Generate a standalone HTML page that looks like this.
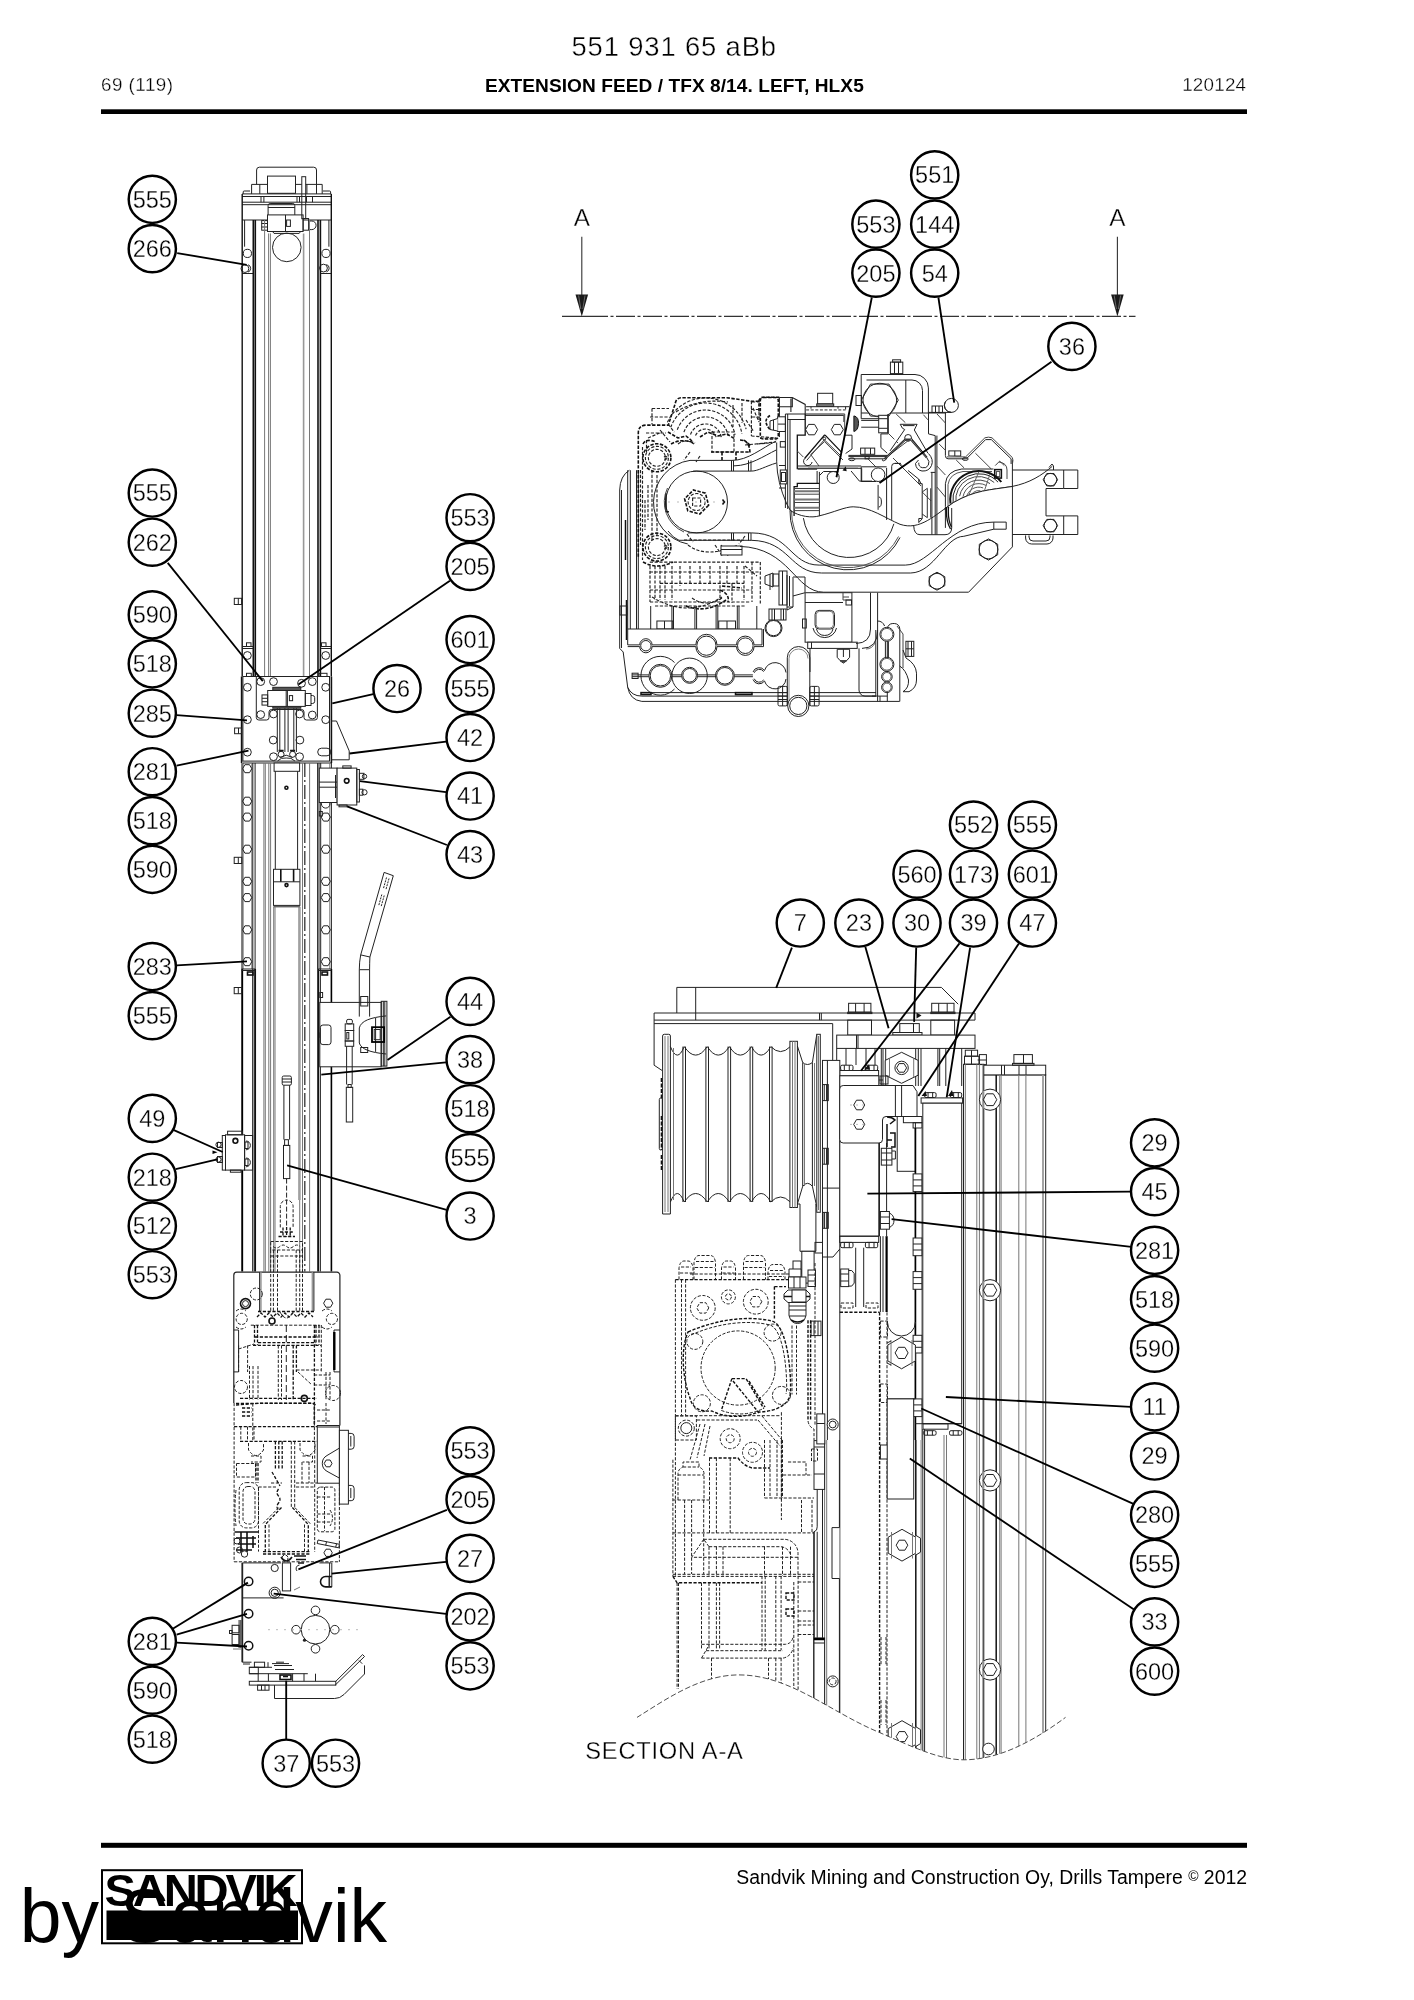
<!DOCTYPE html>
<html><head><meta charset="utf-8"><title>551 931 65 aBb</title>
<style>
html,body{margin:0;padding:0;background:#fff;}
body{width:1414px;height:2000px;overflow:hidden;font-family:"Liberation Sans",sans-serif;}
svg{display:block;font-family:"Liberation Sans",sans-serif;}
svg{will-change:transform;}
.d{fill:none;stroke:#222;stroke-width:1;}
.h{fill:none;stroke:#222;stroke-width:1;stroke-dasharray:3.2 1.6;}
.w{fill:#fff;stroke:#222;stroke-width:1;}
.b circle{fill:#fff;stroke:#000;stroke-width:2.45;}
.b text{font-size:23.5px;text-anchor:middle;fill:#000;stroke:#fff;stroke-width:0.3;paint-order:fill stroke;}
.l line{stroke:#000;stroke-width:1.85;}
</style></head><body>
<svg width="1414" height="2000" viewBox="0 0 1414 2000">
<rect width="1414" height="2000" fill="#fff"/>
<!-- header -->
<text x="674.2" y="55.6" font-size="27.4" letter-spacing="0.85" text-anchor="middle" fill="#000" stroke="#fff" stroke-width="0.4" paint-order="fill stroke">551 931 65 aBb</text>
<text x="101" y="91.1" font-size="18.8" letter-spacing="0.5" fill="#000" stroke="#fff" stroke-width="0.3" paint-order="fill stroke">69 (119)</text>
<text x="674.4" y="91.6" font-size="19.1" letter-spacing="0.06" font-weight="bold" text-anchor="middle" fill="#000">EXTENSION FEED / TFX 8/14. LEFT, HLX5</text>
<text x="1246.3" y="91.1" font-size="18.8" letter-spacing="0.25" text-anchor="end" fill="#000" stroke="#fff" stroke-width="0.3" paint-order="fill stroke">120124</text>
<rect x="101" y="109.3" width="1146" height="4.7" fill="#000"/>
<!-- drawing -->
<g class="d">
<!-- left.svg -->
<path d="M256.6 184.4V170a2.8 2.8 0 0 1 2.8-2.8H313.7a2.8 2.8 0 0 1 2.8 2.8V184.4"/>
<rect x="267.5" y="176.1" width="28.0" height="17.2"/>
<rect x="301.8" y="176.7" width="3.9" height="42.0"/>
<path d="M251.6 193.9V184.4H267.5M295.5 184.4H301.8M305.7 184.4H322.2V193.9"/>
<path d="M259.8 184.4V193.9"/>
<path d="M316.5 184.4V193.9M306.9 184.4V193.9"/>
<path d="M243.2 193.9V192a1 1 0 0 1 1-1H250M330.6 193.9V192a1 1 0 0 0 -1-1H323"/>
<path d="M242.2 193.9H331.3M242.2 196.5H331.3M242.2 202.2H331.3M242.2 204.7H331.3"/>
<path d="M261 196.5V202.2M263.9 196.5V202.2M297 196.5V202.2M299.5 196.5V202.2M306.5 196.5V202.2M312.5 196.5V202.2"/>
<path d="M242.2 220H267.5"/>
<path d="M303.1 220H331.3"/>
<path d="M268.1 214.9V205.5a2 2 0 0 1 2-2H292.8a2 2 0 0 1 2 2V214.9"/>
<path d="M268.1 207.5H294.8"/>
<rect x="267.5" y="214.9" width="35.6" height="16.6"/>
<path d="M285.5 214.9V231.5"/>
<rect x="286.6" y="220" width="3.8" height="6.4"/>
<rect x="261.7" y="220.6" width="5.8" height="9.6"/>
<rect x="303.1" y="218.5" width="5.5" height="11.7"/>
<path d="M308.6 221h3.2a3 3 0 0 1 0 8.6h-3.2"/>
<path d="M261.7 223.5H267.5M261.7 227H267.5"/>
<path d="M272.6 231.5L274 233.4H299.2L300.6 231.5"/>
<circle cx="286.8" cy="247.4" r="14.3"/>
<path d="M244.6 220V246.7M328.9 220V246.7"/>
<circle cx="247.4" cy="253.4" r="4.1"/>
<circle cx="326" cy="253.4" r="4.1"/>
<circle cx="244.9" cy="268.6" r="3.9"/>
<circle cx="323.5" cy="268.1" r="3.9"/>
<path d="M326.5 264.5a3.9 3.9 0 0 1 0 7.4"/>
<path d="M248 264.7a3.9 3.9 0 0 1 0 7.4"/>
<path d="M242.2 273.5H253.2"/>
<path d="M320.7 273.5H331.3"/>
<path d="M242.2 193.9V676.5" stroke="#111" stroke-width="1.4"/>
<path d="M331.3 193.9V676.5" stroke="#111" stroke-width="1.4"/>
<path d="M253.3 220V676.5M255.3 220V676.5" stroke="#111" stroke-width="1.6"/>
<path d="M318 220V676.5M320.4 220V676.5" stroke="#111" stroke-width="1.6"/>
<path d="M264.6 220V676.5" stroke="#777"/>
<path d="M268.6 233.4V676.5M270.4 233.4V676.5" stroke="#777"/>
<path d="M303.6 233.4V676.5" stroke="#999" stroke-width="1.6"/>
<path d="M309.5 220V676.5" stroke="#777"/>
<rect x="234.3" y="598.3" width="7.3" height="6.2"/>
<path d="M238.3 598.3V604.5"/>
<path d="M242.2 646.5H253.3M242.2 648.5H253.3"/>
<path d="M320.4 646.5H331.3M320.4 648.5H331.3"/>
<rect x="246.5" y="642.8" width="4.5" height="3.7"/>
<rect x="321.5" y="642.8" width="4.5" height="3.7"/>
<circle cx="247.4" cy="655.5" r="3.9"/>
<circle cx="325.7" cy="655.5" r="3.9"/>
<rect x="242.9" y="676.5" width="86.6" height="84.6" fill="#fff"/>
<path d="M243 763H331.3"/>
<path d="M241.6 676.5V763" stroke="#111" stroke-width="1.6"/>
<path d="M331.4 676.5V763" stroke="#111" stroke-width="1.6"/>
<rect x="246.5" y="673.3" width="4.8" height="3.2"/>
<rect x="319" y="673.3" width="8.0" height="3.2"/>
<path d="M256.3 677V717.5a2.5 2.5 0 0 0 2.5 2.5H266.5a2.5 2.5 0 0 0 2.5-2.5V712a2.5 2.5 0 0 1 2.5-2.5H301.5a2.5 2.5 0 0 1 2.5 2.5V717.5a2.5 2.5 0 0 0 2.5 2.5H314.9a2.5 2.5 0 0 0 2.5-2.5V677"/>
<circle cx="247.4" cy="687.3" r="3.9"/>
<circle cx="325.7" cy="687.3" r="3.9"/>
<circle cx="260.7" cy="681.6" r="3.9"/>
<circle cx="273.5" cy="681.6" r="3.9"/>
<circle cx="312.3" cy="681.6" r="3.9"/>
<circle cx="301.5" cy="683.3" r="3.9"/>
<circle cx="260.7" cy="714.6" r="3.9"/>
<circle cx="273.5" cy="714" r="3.9"/>
<circle cx="299.6" cy="714" r="3.9"/>
<circle cx="312.3" cy="715" r="3.9"/>
<circle cx="247.4" cy="719.7" r="3.9"/>
<circle cx="325.7" cy="719.7" r="3.9"/>
<circle cx="273.2" cy="740.1" r="3.9"/>
<circle cx="299.9" cy="740.1" r="3.9"/>
<circle cx="247.4" cy="752.2" r="3.9"/>
<circle cx="273.5" cy="756.7" r="3.9"/>
<circle cx="299.6" cy="756.7" r="3.9"/>
<path d="M321.5 748.2H327a3.8 3.8 0 0 1 0 7.6H321.5a3.8 3.8 0 0 1 0-7.6z"/>
<circle cx="281.1" cy="754.3" r="3"/>
<circle cx="292.6" cy="754.3" r="3"/>
<path d="M278.6 750.6H283.6M290.1 750.6H295.1" stroke="#111" stroke-width="1.6"/>
<rect x="272.8" y="687.3" width="28.0" height="3.2" fill="#555" stroke="#222"/>
<rect x="272.8" y="706.4" width="28.0" height="1.8" fill="#555" stroke="#222"/>
<rect x="267.7" y="690.5" width="37.6" height="15.9" fill="#fff"/>
<path d="M286.2 690.5V706.4M287.4 690.5V706.4"/>
<rect x="289.4" y="695.6" width="3.2" height="5.1"/>
<rect x="262" y="694.9" width="5.7" height="10.2"/>
<path d="M262 698.3H267.7M262 701.7H267.7"/>
<rect x="305.3" y="693.5" width="5.7" height="12.0"/>
<path d="M311 695.5h1.5a2.2 2.2 0 0 1 2.2 2.2v3.6a2.2 2.2 0 0 1 -2.2 2.2H311"/>
<path d="M277.3 708.2V752M279.8 708.2V752M284.9 708.2V752M288.1 708.2V752M293.8 708.2V752M296.4 708.2V752"/>
<path d="M279.8 757.5L286.2 755.2L292.6 757.5"/>
<path d="M277.5 761a10 10 0 0 1 8.7-3a10 10 0 0 1 8.7 3"/>
<rect x="234.6" y="728" width="7.0" height="5.7"/>
<path d="M238.5 728V733.7"/>
<path d="M331.4 721H336.5L349.2 750.9V759.8H331.4"/>
<path d="M241.6 763V969" stroke="#777"/>
<path d="M242.9 763V969"/>
<path d="M251.8 763V969" stroke="#777"/>
<path d="M252.8 763V969M255.1 763V969"/>
<path d="M255.1 969V1271.5" stroke="#111" stroke-width="1.9"/>
<path d="M242.2 969V1271.5" stroke="#000" stroke-width="1.9"/>
<path d="M252.8 969V1271.5" stroke="#111" stroke-width="1.2"/>
<path d="M263.9 763V1271.5M265.3 763V1271.5" stroke="#777"/>
<path d="M268.8 763V1271.5M270.6 763V1271.5" stroke="#777"/>
<path d="M302.5 763V1271.5" stroke="#777"/>
<path d="M304.8 763V1271.5" stroke="#333" stroke-width="1.3" stroke-dasharray="14 3 2 3"/>
<path d="M309.6 763V1271.5" stroke="#777"/>
<path d="M317.6 763V969M319 763V969M320.7 763V969"/>
<path d="M318.2 969V1271.5" stroke="#111" stroke-width="2"/>
<path d="M320.4 969V1271.5"/>
<path d="M331.4 763V969"/>
<path d="M329.8 763V969" stroke="#777"/>
<path d="M331.4 969V1271.5" stroke="#000" stroke-width="1.6"/>
<rect x="274.1" y="763" width="25.5" height="8.3" fill="#fff"/>
<path d="M275.3 771.3V869.3M297.6 771.3V869.3"/>
<rect x="273.5" y="869.3" width="26.4" height="36.1" fill="#fff"/>
<path d="M280.8 869.3V881.8M293.6 869.3V881.8" stroke="#111" stroke-width="1.6"/>
<path d="M273.5 881.8H299.9"/>
<circle cx="286.5" cy="885.1" r="1.5" stroke="#111" stroke-width="1.6"/>
<path d="M273.5 906.8H299.9"/>
<path d="M273.7 906.8V1271.5M275 906.8V1271.5" stroke="#777"/>
<path d="M298.9 906.8V1200M300 906.8V1200" stroke="#777"/>
<path d="M299.7 1200V1271.5" stroke="#777"/>
<circle cx="286.4" cy="787.8" r="1.5" stroke="#111" stroke-width="1.6"/>
<polygon points="251.8,768.7 249.5,772.7 244.9,772.7 242.6,768.7 244.9,764.7 249.5,764.7"/>
<polygon points="251.8,801.2 249.5,805.2 244.9,805.2 242.6,801.2 244.9,797.2 249.5,797.2"/>
<polygon points="251.8,817.1 249.5,821.1 244.9,821.1 242.6,817.1 244.9,813.1 249.5,813.1"/>
<polygon points="251.8,849.2 249.5,853.2 244.9,853.2 242.6,849.2 244.9,845.2 249.5,845.2"/>
<polygon points="251.8,881.3 249.5,885.3 244.9,885.3 242.6,881.3 244.9,877.3 249.5,877.3"/>
<polygon points="251.8,897.6 249.5,901.6 244.9,901.6 242.6,897.6 244.9,893.6 249.5,893.6"/>
<polygon points="251.8,929.8 249.5,933.8 244.9,933.8 242.6,929.8 244.9,925.8 249.5,925.8"/>
<polygon points="251.8,961.7 249.5,965.7 244.9,965.7 242.6,961.7 244.9,957.7 249.5,957.7"/>
<polygon points="330.4,817.1 328.1,821.1 323.5,821.1 321.2,817.1 323.5,813.1 328.1,813.1"/>
<polygon points="330.4,849.2 328.1,853.2 323.5,853.2 321.2,849.2 323.5,845.2 328.1,845.2"/>
<polygon points="330.4,881.3 328.1,885.3 323.5,885.3 321.2,881.3 323.5,877.3 328.1,877.3"/>
<polygon points="330.4,897.6 328.1,901.6 323.5,901.6 321.2,897.6 323.5,893.6 328.1,893.6"/>
<polygon points="330.4,929.8 328.1,933.8 323.5,933.8 321.2,929.8 323.5,925.8 328.1,925.8"/>
<polygon points="330.4,961.7 328.1,965.7 323.5,965.7 321.2,961.7 323.5,957.7 328.1,957.7"/>
<circle cx="325.7" cy="803.8" r="4.3"/>
<rect x="319.3" y="811.5" width="3.0" height="4.5"/>
<rect x="234.2" y="857.3" width="7.6" height="6.2"/>
<path d="M238.3 857.3V863.5"/>
<rect x="234.2" y="987.5" width="7.6" height="6.2"/>
<path d="M238.3 987.5V993.7"/>
<path d="M241.6 969H255.4M241.6 970.5H255.4"/>
<path d="M318.1 969H331.4M318.1 970.5H331.4"/>
<rect x="247.5" y="972" width="5.5" height="3.0" stroke="#111" stroke-width="1.6"/>
<rect x="322" y="972" width="5.5" height="3.0" stroke="#111" stroke-width="1.6"/>
<rect x="319.8" y="992.5" width="2.8" height="5.0"/>
<rect x="319.8" y="1032.8" width="2.8" height="4.5"/>
<rect x="319.3" y="768.1" width="17.8" height="34.4" fill="#fff"/>
<path d="M319.3 782.1H337.1M319.3 787.2H337.1"/>
<rect x="337.1" y="768.1" width="19.7" height="36.9" fill="#fff"/>
<rect x="356.8" y="769.5" width="2.6" height="32.5"/>
<rect x="342.8" y="765.9" width="8.3" height="2.2"/>
<path d="M335.5 775V798"/>
<circle cx="346.7" cy="780.8" r="2.3" stroke="#111" stroke-width="1.6"/>
<rect x="359.4" y="773.3" width="4.5" height="6.0"/>
<circle cx="364.5" cy="776.4" r="2.2"/>
<rect x="359.4" y="789.2" width="3.5" height="6.0"/>
<circle cx="364.5" cy="792.3" r="2.6"/>
<rect x="339" y="805" width="8.0" height="1.8"/>
<path d="M384.1 872.4L393.3 875.7L369.9 957Q369.6 963 369.6 969.7V1016.6M384.1 872.4L360.7 954.9Q359.3 962 359.3 969.7V1027.9"/>
<path d="M360.7 954.9L369.9 957"/>
<path d="M359.3 969.7H369.6"/>
<path d="M386.5 877.5l-3.2 11.5M389 878.5l-3.2 11.5M381.8 894.5l-3.2 11.5M384.2 895.5l-3.2 11.5" stroke-dasharray="2 1"/>
<rect x="319.8" y="1002.4" width="61.4" height="64.4" fill="#fff"/>
<rect x="360.7" y="996.5" width="7.1" height="9.5"/>
<path d="M359.3 1002.4V1016.6M369.6 1002.4V1016.6"/>
<rect x="320.4" y="1025" width="10.6" height="19.6" rx="2.5"/>
<rect x="381.2" y="1001.3" width="5.7" height="64.8"/>
<path d="M383.3 1001.3V1066.1M384.8 1001.3V1066.1"/>
<path d="M359.3 1027.9C361 1021 370 1017.5 386.2 1015.9M359.3 1027.9V1043C361 1049 370 1052.5 386.2 1054"/>
<path d="M375.6 1018V1051.9"/>
<rect x="372" y="1027.2" width="12.1" height="14.8" stroke="#000" stroke-width="1.8"/>
<rect x="374.2" y="1029.5" width="6.0" height="10.2"/>
<rect x="360.7" y="1047.5" width="7.0" height="5.0"/>
<rect x="346.6" y="1019.4" width="5.8" height="4.5" rx="1.5"/>
<rect x="345.2" y="1023.9" width="8.5" height="6.6"/>
<rect x="345.2" y="1030.5" width="8.5" height="10.5"/>
<rect x="345.2" y="1041" width="8.5" height="5.3"/>
<rect x="346.8" y="1032.5" width="2.0" height="6.5"/>
<path d="M346.6 1046.3V1084.5M352.2 1046.3V1084.5"/>
<rect x="348" y="1084.5" width="3.2" height="3.0"/>
<rect x="346.3" y="1087.3" width="6.4" height="34.7"/>
<rect x="282.2" y="1076" width="9.2" height="9.2" rx="1.5"/>
<path d="M282.2 1079H291.4M282.2 1082H291.4"/>
<path d="M283.9 1085.2V1139.6M289.6 1085.2V1139.6"/>
<rect x="284.6" y="1139.7" width="3.8" height="5.7"/>
<rect x="283.5" y="1145.4" width="6.3" height="33.2"/>
<rect x="225.5" y="1134.8" width="19.1" height="35.3" fill="#fff"/>
<rect x="222.3" y="1135.5" width="3.2" height="34.6"/>
<rect x="227.6" y="1131.2" width="14.8" height="3.6"/>
<rect x="230.4" y="1170.1" width="10.6" height="2.1"/>
<circle cx="235.4" cy="1140.8" r="2.4" stroke="#111" stroke-width="1.6"/>
<rect x="244.6" y="1135.5" width="8.0" height="34.6"/>
<path d="M246 1141a4.4 4.4 0 0 1 0 8.8M246 1158a4.4 4.4 0 0 1 0 8.8"/>
<rect x="245" y="1142" width="3.0" height="6.5"/>
<rect x="245" y="1159" width="3.0" height="6.5"/>
<rect x="217.5" y="1142.5" width="4.8" height="5.0"/>
<circle cx="218.5" cy="1144.7" r="2.6"/>
<rect x="217.5" y="1156.5" width="4.8" height="6.0"/>
<circle cx="218.5" cy="1159.5" r="2.6"/>
<path d="M212.5 1150.5l5 1.8l-5 1.8z" fill="#000" stroke="none"/>
<path d="M286.6 1178.6V1227" stroke-dasharray="5 2"/>
<path d="M280.3 1227.4V1206.5a6.4 6.4 0 0 1 12.8 0V1227.4" stroke-dasharray="3.2 1.6"/>
<path d="M278.5 1236.5h16.5M280 1232h13.5M283 1227.4v9M290.2 1227.4v9M286.6 1227v10" stroke-dasharray="3.2 1.6" stroke="#111" stroke-width="1.3"/>
<rect x="270.7" y="1241.5" width="31.8" height="8.5" stroke-dasharray="3.2 1.6"/>
<path d="M273 1246.5q3.4 3 6.8 0t6.8 0t6.8 0t6.8 0" stroke-dasharray="3.2 1.6"/>
<path d="M270.7 1256H302.5" stroke-dasharray="3.2 1.6"/>
<path d="M270.7 1250V1311M273.4 1250V1311M277.5 1250V1311M296.2 1250V1311M299.7 1250V1311M302.5 1250V1311" stroke-dasharray="3.2 1.6"/>
<path d="M233.8 1403V1275.2a3 3 0 0 1 3-3H336.9a3 3 0 0 1 3 3V1425.5" stroke="#222" stroke-width="1.2"/>
<path d="M259.6 1272.2V1311"/>
<path d="M260.9 1272.2V1311" stroke="#999" stroke-width="1.6"/>
<path d="M312.4 1272.2V1311" stroke="#999" stroke-width="1.6"/>
<path d="M313.9 1272.2V1311"/>
<path d="M233.8 1330H238.6V1371.9H233.8"/>
<path d="M339.9 1330H334V1371.9H339.9"/>
<path d="M334.3 1332V1370" stroke="#000" stroke-width="2.4"/>
<circle cx="245.5" cy="1303.6" r="5" stroke="#111" stroke-width="1.6"/>
<circle cx="245.5" cy="1303.6" r="3"/>
<circle cx="256.3" cy="1294" r="6" stroke-dasharray="3.2 1.6"/>
<polygon points="332.8,1303.2 330.5,1307.2 325.9,1307.2 323.6,1303.2 325.9,1299.2 330.5,1299.2"/>
<circle cx="241.7" cy="1318.9" r="5.6" stroke-dasharray="3.2 1.6"/>
<circle cx="331.9" cy="1318.9" r="5.6" stroke-dasharray="3.2 1.6"/>
<circle cx="272" cy="1321" r="3" stroke="#111" stroke-width="1.6"/>
<circle cx="304.3" cy="1398.4" r="3" stroke="#111" stroke-width="1.6"/>
<path d="M236 1311q5-4 10 0M322 1311q5-4 10 0M236 1327q5 4 10 0M322 1327q5 4 10 0" stroke-dasharray="3.2 1.6"/>
<path d="M258 1311.5H315M257 1317l4-4 4 4 4-4 4 4 4-4 4 4 4-4 4 4 4-4 4 4 4-4 4 4 4-4 4 4" stroke-dasharray="3.2 1.6" stroke="#111" stroke-width="1.3"/>
<path d="M280 1312q6.5 12 13 0" stroke-dasharray="3.2 1.6"/>
<path d="M250.8 1325.2H319.7" stroke-dasharray="3.2 1.6"/>
<path d="M255 1337H318M258 1342.7H316M253 1345.4H321" stroke-dasharray="3.2 1.6" stroke="#111" stroke-width="1.3"/>
<path d="M286.3 1325V1400" stroke-dasharray="7 3"/>
<path d="M278.3 1345.4V1400M281.5 1345.4V1400" stroke-dasharray="3.2 1.6"/>
<path d="M293.2 1345.4V1372M296.4 1345.4V1372" stroke-dasharray="3.2 1.6" stroke="#111" stroke-width="1.3"/>
<path d="M293.2 1372V1400" stroke-dasharray="3.2 1.6" stroke="#111" stroke-width="1.3"/>
<path d="M314.4 1325V1425" stroke-dasharray="3.2 1.6" stroke="#111" stroke-width="1.3"/>
<path d="M321.3 1325V1372" stroke-dasharray="3.2 1.6"/>
<path d="M254.5 1325V1345M257.5 1325V1345" stroke-dasharray="3.2 1.6" stroke="#111" stroke-width="1.3"/>
<path d="M316 1325V1345M319 1325V1345" stroke-dasharray="3.2 1.6" stroke="#111" stroke-width="1.3"/>
<path d="M238.6 1345.4V1372M247.6 1345.4V1372" stroke-dasharray="3.2 1.6"/>
<path d="M249.5 1366V1400M253 1366V1400M258 1366V1400" stroke-dasharray="3.2 1.6"/>
<path d="M238.6 1349L254 1344M296.4 1370H321M298 1372L312 1385M314 1375H330M314 1385H330" stroke-dasharray="3.2 1.6"/>
<path d="M240 1398.4H317" stroke-dasharray="3.2 1.6" stroke="#111" stroke-width="1.3"/>
<path d="M236 1405L260 1403.2H312L316 1405" stroke-dasharray="3.2 1.6" stroke="#111" stroke-width="1.3"/>
<circle cx="241" cy="1387" r="6.5" stroke-dasharray="3.2 1.6"/>
<circle cx="333" cy="1393" r="7.5" stroke-dasharray="3.2 1.6"/>
<path d="M326 1372V1400M330 1372V1400" stroke-dasharray="3.2 1.6"/>
<path d="M234.1 1403V1561.8" stroke-dasharray="3.2 1.6"/>
<path d="M339.4 1483V1561.8" stroke-dasharray="3.2 1.6"/>
<path d="M234.1 1561.8H339.4" stroke-dasharray="3.2 1.6"/>
<path d="M236 1403.4H314.4V1426.6" stroke-dasharray="3.2 1.6" stroke="#111" stroke-width="1.3"/>
<path d="M252.8 1403.4V1441" stroke-dasharray="3.2 1.6"/>
<path d="M314.4 1403V1441" stroke-dasharray="3.2 1.6"/>
<path d="M240.8 1426.6V1441M247.5 1426.6V1441M254 1426.6V1441" stroke-dasharray="3.2 1.6"/>
<path d="M234.1 1426.6H317.3" stroke-dasharray="3.2 1.6" stroke="#111" stroke-width="1.3"/>
<path d="M240 1441.3H317" stroke-dasharray="3.2 1.6" stroke="#111" stroke-width="1.3"/>
<path d="M242 1408h10M242 1412h10M242 1416h10" stroke-dasharray="3.2 1.6" stroke="#111" stroke-width="1.3"/>
<path d="M317 1410H331M317 1421H331M326 1403V1424" stroke-dasharray="3.2 1.6"/>
<path d="M248.5 1443V1450q7.5 11 15 0V1443M300 1443V1450q7.5 11 15 0V1443" stroke-dasharray="3.2 1.6"/>
<path d="M251 1456h10v6h-10M302.5 1456h10v6h-10" stroke-dasharray="3.2 1.6"/>
<rect x="236.5" y="1463.5" width="19.0" height="13.5" stroke-dasharray="3.2 1.6"/>
<path d="M256 1463V1483M258 1463V1483" stroke-dasharray="3.2 1.6" stroke="#111" stroke-width="1.3"/>
<path d="M275.4 1441.3V1470M278.8 1441.3V1470M282.2 1441.3V1470" stroke-dasharray="3.2 1.6" stroke="#111" stroke-width="1.3"/>
<path d="M291.3 1441.3V1507.5M294.7 1441.3V1507.5" stroke-dasharray="3.2 1.6"/>
<path d="M302 1462V1483M309 1462V1483" stroke-dasharray="3.2 1.6"/>
<path d="M314.7 1441V1552" stroke-dasharray="3.2 1.6"/>
<path d="M271 1483H282M296 1483H317M258.5 1487H276M296 1487H314.7" stroke-dasharray="3.2 1.6"/>
<path d="M272 1472l8 14M278.5 1489q-3 4 0 7t0 7t0 7" stroke-dasharray="3.2 1.6" stroke="#111" stroke-width="1.3"/>
<path d="M281.5 1507.5L265.3 1524.5V1551.6M292.4 1507.5L308.3 1524.5V1551.6" stroke-dasharray="3.2 1.6" stroke="#111" stroke-width="1.3"/>
<path d="M278.8 1507.5L262 1524.5M294.8 1507.5L311 1524.5" stroke-dasharray="3.2 1.6"/>
<path d="M269 1524.5V1551.6M304.5 1524.5V1551.6" stroke-dasharray="3.2 1.6"/>
<path d="M263 1551.6H310M263 1554H310" stroke-dasharray="3.2 1.6" stroke="#111" stroke-width="1.3"/>
<path d="M258.5 1487V1551.6" stroke-dasharray="3.2 1.6"/>
<rect x="239.2" y="1482.6" width="19.3" height="45.3" rx="7" stroke-dasharray="3.2 1.6"/>
<rect x="243" y="1486.5" width="12.0" height="37.5" rx="5" stroke-dasharray="3.2 1.6"/>
<path d="M236 1490q-2 18 0 36" stroke-dasharray="3.2 1.6"/>
<rect x="317.3" y="1487.1" width="17.6" height="44.7" rx="3" stroke-dasharray="3.2 1.6"/>
<path d="M317.3 1497H331M317.3 1514H331M317.3 1522H331M324.5 1487V1531" stroke-dasharray="3.2 1.6"/>
<path d="M330 1510q5 8 0 16" stroke-dasharray="3.2 1.6"/>
<path d="M234.5 1532H258M236 1538h20M238 1544h18M236 1550h16M241 1532v20M247 1532v20M253 1536v12" stroke="#111" stroke-width="1.6"/>
<circle cx="237" cy="1541" r="3"/>
<circle cx="239.5" cy="1550" r="3"/>
<circle cx="244.5" cy="1554" r="3.2" fill="#fff"/>
<path d="M281 1557q5 8 11 0M294 1556h12M296 1559.5h10M298 1563h6" stroke="#111" stroke-width="1.6"/>
<circle cx="285" cy="1558" r="3" stroke-dasharray="3.2 1.6"/>
<path d="M318 1540l21.5 4.3l-.8 3.5l-21.5-4.3zM326.5 1541.8l-.8 3.5M336.5 1543.8l-.8 3.5"/>
<polygon points="332.3,1552.8 330.2,1556.4 326.0,1556.4 323.9,1552.8 326.0,1549.2 330.2,1549.2"/>
<rect x="317.3" y="1425.5" width="22.1" height="57.7" fill="#fff"/>
<path d="M317.3 1427H339.4"/>
<path d="M339.4 1448.1L327 1455.5a9 9 0 0 0 0 15.8L339.4 1478.1"/>
<polygon points="332.0,1463.4 330.1,1466.8 326.2,1466.8 324.2,1463.4 326.2,1460.0 330.1,1460.0"/>
<rect x="339.4" y="1430.3" width="9.0" height="73.8" fill="#fff"/>
<path d="M348.4 1433.4h2.8a2.9 2.9 0 0 1 2.9 2.9v10a2.9 2.9 0 0 1 -2.9 2.9h-2.8M348.4 1485.4h2.8a2.9 2.9 0 0 1 2.9 2.9v9.5a2.9 2.9 0 0 1 -2.9 2.9h-2.8"/>
<path d="M350.8 1436v10.5M350.8 1488v10"/>
<path d="M242.3 1562.9V1662.2" stroke="#222" stroke-width="1.8"/>
<path d="M242.3 1562.9H281M319.3 1562.9H331.4"/>
<path d="M329.6 1562.9V1587.1M331.8 1562.9V1587.1"/>
<path d="M242.3 1597.9H283.6"/>
<rect x="282.4" y="1562.9" width="8.2" height="28.0" fill="#fff"/>
<circle cx="274.7" cy="1568" r="3.6"/>
<path d="M299.5 1565a3.6 3.6 0 0 0 -2.5 6"/>
<circle cx="248.6" cy="1581.4" r="4.2" stroke="#111" stroke-width="1.5"/>
<circle cx="248.6" cy="1613.8" r="4.2" stroke="#111" stroke-width="1.5"/>
<circle cx="248.6" cy="1645.7" r="4.2" stroke="#111" stroke-width="1.5"/>
<circle cx="274.7" cy="1592.8" r="5.6"/>
<circle cx="274.7" cy="1592.8" r="3.6"/>
<path d="M331.8 1576.5H325.7a5.2 5.2 0 0 0 0 10.4H331.8" stroke="#111" stroke-width="1.6"/>
<path d="M329 1576.5V1587"/>
<path d="M294 1590l6-3" stroke="#777"/>
<circle cx="315.5" cy="1629.7" r="14.3"/>
<circle cx="315.5" cy="1610.4" r="4.3"/>
<circle cx="296.1" cy="1629.7" r="4.3"/>
<circle cx="334.8" cy="1629.7" r="4.3"/>
<circle cx="315.5" cy="1648.8" r="4.3"/>
<circle cx="304.5" cy="1640.2" r="1.6" fill="#222" stroke="none"/>
<path d="M268 1629.7H360" stroke="#bbb" stroke-dasharray="2 6"/>
<rect x="232.1" y="1625.3" width="7.0" height="7.5"/>
<rect x="232.1" y="1634.5" width="7.0" height="10.0"/>
<rect x="229.5" y="1630.5" width="2.6" height="3.0"/>
<path d="M239.1 1620V1648M240.8 1620V1648"/>
<path d="M233 1649H242" stroke="#777"/>
<path d="M242.3 1662.2H251.5M243 1664H250"/>
<rect x="254.4" y="1662.2" width="10.2" height="5.1"/>
<path d="M268 1662.2V1667.3M276 1662.2H284M272 1663.6H289M274 1665.5H292M275 1669.5H294"/>
<path d="M249.3 1667.3H272"/>
<rect x="249.3" y="1667.3" width="9.0" height="6.4"/>
<path d="M249.3 1673.7H307.8"/>
<path d="M258.2 1673.7V1681.3M268.4 1673.7V1681.3M292.6 1673.7V1681.3M304 1673.7V1681.3M315.5 1673.7V1681.3"/>
<rect x="249.3" y="1681.3" width="86.5" height="3.8"/>
<rect x="280" y="1675" width="11.0" height="4.5" stroke="#111" stroke-width="1.6"/>
<path d="M283 1676.5h5" stroke="#111" stroke-width="1.6"/>
<rect x="257.6" y="1685.1" width="11.4" height="5.1"/>
<path d="M261.5 1685.1V1690.2M265 1685.1V1690.2"/>
<path d="M274.5 1685.1V1698.5H334.6Q340 1698.5 344 1694.5L364.5 1674V1665.4"/>
<path d="M335.8 1681.3L362.6 1654.6L364.5 1656.5L335.2 1685.1"/>
<path d="M359 1660.5l3.2 3.2"/>
<!-- topright.svg -->
<path d="M562 316.4H608" stroke="#333" stroke-width="1.1"/>
<path d="M610.5 316.4H1135.5" stroke="#333" stroke-width="1.1" stroke-dasharray="3 2.5 19 2.5"/>
<path d="M581.8 236.7V300" stroke="#333" stroke-width="1.1"/>
<path d="M575.5 294.4H588.0999999999999L581.8 316.6z" fill="#1a1a1a" stroke="none"/>
<path d="M578.5999999999999 295.5L580.8 309M585.0 295.5L582.8 309" stroke="#999" stroke-width="0.6"/>
<text x="581.8" y="226" font-size="24.3" text-anchor="middle" fill="#000" stroke="#fff" stroke-width="0.3" paint-order="fill stroke">A</text>
<path d="M1117.4 236.7V300" stroke="#333" stroke-width="1.1"/>
<path d="M1111.1000000000001 294.4H1123.7L1117.4 316.6z" fill="#1a1a1a" stroke="none"/>
<path d="M1114.2 295.5L1116.4 309M1120.6000000000001 295.5L1118.4 309" stroke="#999" stroke-width="0.6"/>
<text x="1117.4" y="226" font-size="24.3" text-anchor="middle" fill="#000" stroke="#fff" stroke-width="0.3" paint-order="fill stroke">A</text>
<path d="M629.4 470.2Q620 476 619.7 490V648.4L623.2 652L627.7 687.3Q630 700 641.8 701.4"/>
<path d="M621.5 490V648"/>
<path d="M627.7 470.2V629M630.3 470.2V629"/>
<path d="M636.5 470.2V629M638.3 470.2V629"/>
<path d="M625.5 520V560M626.5 600V640" stroke="#111" stroke-width="1.5"/>
<rect x="620" y="606" width="7.0" height="9.0"/>
<path d="M638.3 556.8V433Q638.3 425.5 646 425.1H668.3L675.4 403a6 6 0 0 1 6-5.3H726.7L751.4 401.2H760.3" stroke-dasharray="3.4 1.5" stroke="#111" stroke-width="1.6"/>
<path d="M642.5 447V560M646.5 440V452" stroke-dasharray="3.2 1.6" stroke="#222" stroke-width="1.15"/>
<path d="M652 408.5h17M650 417h18M652 408.5v16" stroke-dasharray="3.2 1.6" stroke="#222" stroke-width="1.15"/>
<path d="M690.5 434.5A16 16 0 0 1 721.3 437.2" stroke-dasharray="3.2 1.6" stroke="#222" stroke-width="1.15"/>
<path d="M683.9 432.1A23 23 0 0 1 728.2 436.0" stroke-dasharray="3.2 1.6" stroke="#222" stroke-width="1.15"/>
<path d="M677.3 429.7A30 30 0 0 1 735.0 434.8" stroke-dasharray="3.2 1.6" stroke="#222" stroke-width="1.15"/>
<path d="M670.7 427.3A37 37 0 0 1 741.9 433.6" stroke-dasharray="3.2 1.6" stroke="#222" stroke-width="1.15"/>
<path d="M668 432l10 6 8-2 6 5M700 437l8-5 10 4 9-2 8 5" stroke-dasharray="3.4 1.5" stroke="#111" stroke-width="1.6"/>
<rect x="712" y="432" width="22.0" height="20.0" stroke-dasharray="3.2 1.6" stroke="#222" stroke-width="1.15"/>
<path d="M711 452H750M722 452v8M736 452v8" stroke-dasharray="3.4 1.5" stroke="#111" stroke-width="1.6"/>
<path d="M740 440q10 0 10 14M744 440l7 6" stroke-dasharray="3.4 1.5" stroke="#111" stroke-width="1.6"/>
<rect x="760.3" y="397.5" width="18.0" height="41.5" rx="3" stroke-dasharray="3.4 1.5" stroke="#111" stroke-width="1.6"/>
<path d="M751.4 401V436" stroke-dasharray="3.2 1.6" stroke="#222" stroke-width="1.15"/>
<path d="M751.4 436L776 438M745 445L776 442" stroke-dasharray="3.2 1.6" stroke="#222" stroke-width="1.15"/>
<path d="M646 433h20M648 438l14-6M668.3 424.2l6 8M676 412q22-14 52-10M690 452l-6 8M700 456l-4 6M746 420l8 12M753 408l6 14M733 405v22M742 403v20M660 430l10 12M678 444q8-6 16 0" stroke-dasharray="3.2 1.6" stroke="#222" stroke-width="1.15"/>
<path d="M695.5 435.4A11 11 0 0 1 716.1 437.2" stroke-dasharray="3.2 1.6" stroke="#222" stroke-width="1.15"/>
<path d="M667.4 422.3A42 42 0 0 1 746.1 429.1" stroke-dasharray="3.2 1.6" stroke="#222" stroke-width="1.15"/>
<path d="M649.8 572H760M665 566v34M680 566v20M710 566v18M720 566v34M732 583v20M655 606h90M692 598q14 10 30 0" stroke-dasharray="3.2 1.6" stroke="#222" stroke-width="1.15"/>
<path d="M640.5 470V545M645 500v30" stroke-dasharray="3.2 1.6" stroke="#222" stroke-width="1.15"/>
<circle cx="656.9" cy="457.8" r="14" stroke-dasharray="3.4 1.5" stroke="#111" stroke-width="1.6"/>
<circle cx="656.9" cy="457.8" r="8.5" stroke-dasharray="3.2 1.6" stroke="#222" stroke-width="1.15"/>
<circle cx="665.5" cy="457.8" r="1.5" stroke-dasharray="3.2 1.6" stroke="#222" stroke-width="1.15"/>
<circle cx="656.9" cy="457.8" r="11.5" stroke-dasharray="3.2 1.6" stroke="#222" stroke-width="1.15"/>
<circle cx="656.9" cy="547.1" r="14" stroke-dasharray="3.4 1.5" stroke="#111" stroke-width="1.6"/>
<circle cx="656.9" cy="547.1" r="8.5" stroke-dasharray="3.2 1.6" stroke="#222" stroke-width="1.15"/>
<circle cx="665.5" cy="547.1" r="1.5" stroke-dasharray="3.2 1.6" stroke="#222" stroke-width="1.15"/>
<circle cx="656.9" cy="547.1" r="11.5" stroke-dasharray="3.2 1.6" stroke="#222" stroke-width="1.15"/>
<path d="M643 444Q646 438 656 442M671 444q10-6 24-1" stroke-dasharray="3.4 1.5" stroke="#111" stroke-width="1.6"/>
<path d="M643 562q14 8 30 0" stroke-dasharray="3.4 1.5" stroke="#111" stroke-width="1.6"/>
<path d="M648 485V520M652 470V540M657 475v60" stroke-dasharray="3.2 1.6" stroke="#222" stroke-width="1.15"/>
<path d="M649.8 562.1H760.3M650 566v36M655 566v34M660 566v34M672 566v34M690 566v18M700 566v18M727 566v18M737 566v18M744 566v34" stroke-dasharray="3.2 1.6" stroke="#222" stroke-width="1.15"/>
<path d="M660 583.3H744M650 590H752M652 597q36 22 70 0M650 602h100" stroke-dasharray="3.2 1.6" stroke="#222" stroke-width="1.15"/>
<path d="M686 606q20 8 40-6M720 590q10 4 8 12M722 586l20 2" stroke-dasharray="3.4 1.5" stroke="#111" stroke-width="1.6"/>
<path d="M752 562v40M760.3 562V604M745 566l12 10" stroke-dasharray="3.2 1.6" stroke="#222" stroke-width="1.15"/>
<path d="M684 540h60M688 545q18 14 50 0M715 545l8 12M721 545l8 12" stroke-dasharray="3.2 1.6" stroke="#222" stroke-width="1.15"/>
<rect x="721" y="546" width="21.0" height="9.0" fill="#fff"/>
<path d="M721 549.5H742"/>
<path d="M687 534l6 8M745 536l-6 8" stroke-dasharray="3.2 1.6" stroke="#222" stroke-width="1.15"/>
<path d="M650.7 606V629M671.9 606V629M673.5 606V629M694.9 606V629M696.6 606V629M716.1 606V629M717.8 606V629M737.3 606V629M739 606V629M756.8 606V629"/>
<rect x="656.9" y="621" width="15.9" height="8.0"/>
<path d="M664.5 621V629"/>
<rect x="718.7" y="621" width="16.8" height="8.0"/>
<path d="M727 621V629"/>
<path d="M627.7 629H762V644.9H754.1a8.8 8.8 0 0 0 -17.6 0H717a10.6 10.6 0 0 0 -21.2 0H652.1a6.2 6.2 0 0 0 -12.4 0H627.7z" fill="#fff"/>
<path d="M627.7 646.6H639.7a6.2 6.2 0 0 0 12.4 0H695.8a10.6 10.6 0 0 0 21.2 0H736.5a8.8 8.8 0 0 0 17.6 0H763.5V629"/>
<circle cx="645.9" cy="645.7" r="5.2"/>
<circle cx="706.4" cy="645.7" r="9.6"/>
<circle cx="745.3" cy="645.7" r="7.8"/>
<path d="M632.1 674.9H648.9M671.9 674.9H681.6M697.6 674.9H715.4M734.4 674.9H752.9M632.1 676.7H648.9M671.9 676.7H681.6M697.6 676.7H715.4M734.4 676.7H752.9"/>
<rect x="632.1" y="673.2" width="6.0" height="5.3"/>
<circle cx="660.4" cy="675.8" r="11.5"/>
<circle cx="660.4" cy="675.8" r="10.2"/>
<path d="M674.5 662.5A19.4 19.4 0 1 0 674.5 689"/>
<circle cx="689.6" cy="675.8" r="17.7"/>
<circle cx="689.6" cy="675.3" r="8"/>
<circle cx="689.6" cy="675.3" r="6.8"/>
<circle cx="724.9" cy="675.8" r="9.5"/>
<circle cx="724.9" cy="675.8" r="8.3"/>
<path d="M753 672a6.5 6.5 0 0 1 11.5-1.5a11 11 0 0 1 21.5 2M753 679.5a6.5 6.5 0 0 0 11.5 1.5a11 11 0 0 0 21.5-2"/>
<path d="M754.2 672.8a5.4 5.4 0 0 1 9.5-1.2M754.2 678.7a5.4 5.4 0 0 0 9.5 1.2"/>
<path d="M641.8 692.6H787M641.8 696.1H787"/>
<path d="M641.8 701.4H899.7"/>
<path d="M627.7 687.3Q631.5 696.1 641.8 696.1"/>
<rect x="641" y="692.6" width="10.0" height="2.0" stroke="#111" stroke-width="1.5"/>
<rect x="735.5" y="692.6" width="16.5" height="2.0" stroke="#111" stroke-width="1.5"/>
<path d="M810 692.6H876M810 696.1H876"/>
<path d="M787.3 706V657.8a11.25 11.25 0 0 1 22.5 0V706" fill="#fff"/>
<path d="M789 706V658.5a9.5 9.5 0 0 1 19 0" stroke="#888"/>
<circle cx="798.3" cy="705.9" r="10.6" fill="#fff"/>
<circle cx="798.3" cy="705.9" r="8.6"/>
<path d="M779.5 686.4h6.3a1.5 1.5 0 0 1 1.5 1.5v16.5a1.5 1.5 0 0 1 -1.5 1.5h-6.3a1.5 1.5 0 0 1 -1.5-1.5v-16.5a1.5 1.5 0 0 1 1.5-1.5zM778 692.6h9.3M778 696.1h9.3M778 699.5h9.3M782.6 686.4v19.5"/>
<path d="M811.3 686.4h6.3a1.5 1.5 0 0 1 1.5 1.5v16.5a1.5 1.5 0 0 1 -1.5 1.5h-6.3a1.5 1.5 0 0 1 -1.5-1.5v-16.5a1.5 1.5 0 0 1 1.5-1.5zM809.8 692.6h9.3M809.8 696.1h9.3M809.8 699.5h9.3M814.4 686.4v19.5"/>
<circle cx="773.5" cy="628.1" r="8.5"/>
<circle cx="773.5" cy="628.1" r="7.6"/>
<path d="M779.4 397.5V437M779.4 397.5H792.3L805.2 404.4V413.5M779.4 406.7H792.3V397.5M790.9 398.5V412" stroke="#222" stroke-width="1.1"/>
<path d="M779.4 397.2H763a4 4 0 0 0 -4 4V412" stroke-dasharray="3.4 1.5" stroke="#111" stroke-width="1.6"/>
<path d="M759 412v10M752 402h8M751 409.5h9M752 417h8" stroke-dasharray="3.2 1.6" stroke="#222" stroke-width="1.15"/>
<rect x="777.6" y="416.8" width="7.8" height="14.7" fill="#fff"/>
<path d="M777.6 424.1H785.4"/>
<path d="M777.6 418.5L770 421V429.5L777.6 431" fill="#fff"/>
<path d="M773.5 420V430"/>
<path d="M770 415.5q-8 5 0 14" stroke="#111" stroke-width="1.6" stroke-dasharray="3 1.4"/>
<path d="M760 438.5L776.7 438M757 444l12-1" stroke-dasharray="3.2 1.6" stroke="#222" stroke-width="1.15"/>
<path d="M785.4 414V508M787.7 414V509M790 419.5V510.2"/>
<path d="M785.4 414H844.7M805.2 415.4H843.8M787.7 419.5H805.2"/>
<path d="M805.2 413.5V435.2H797.3V469.2" stroke="#111" stroke-width="1.3"/>
<rect x="780.3" y="441.6" width="5.1" height="5.5"/>
<rect x="780.3" y="470" width="6.5" height="13.9" fill="#fff"/>
<rect x="781.5" y="472.5" width="4.0" height="9.0"/>
<path d="M779 465.5H785.4M779 488H785.4"/>
<path d="M776.7 442.5V461.8Q777 482 786.8 504.1L790.5 510.6"/>
<path d="M765 576l8-3v14l-8-3zM770 574v16" fill="#fff"/>
<rect x="773" y="574" width="6.0" height="12.0"/>
<rect x="779" y="571" width="8.0" height="34.0" fill="#fff"/>
<path d="M782.5 571V605"/>
<path d="M787 575V610M793 577V596M789.5 576V606"/>
<path d="M793 577H805V592M793 596L805.1 592.7M787 610L793 607" fill="#fff"/>
<rect x="769" y="609" width="17.0" height="11.0" fill="#fff"/>
<path d="M772 609V620M774.5 609V620M781 609V620M783.5 609V620"/>
<path d="M793 596V607H787"/>
<rect x="817.6" y="393.3" width="15.1" height="10.6"/>
<rect x="816.7" y="403.9" width="17.0" height="2.3" fill="#999"/>
<path d="M806.1 406.7H849.3"/>
<path d="M811 406.7v2M838 406.7v2M845.6 406.7v3"/>
<path d="M806.1 409.9H845.6" stroke="#888" stroke-width="1.6" stroke-dasharray="3 1.6"/>
<path d="M844.7 414V436M843.8 415.4V422" stroke="#444"/>
<polygon points="817.6,429.6 814.6,434.8 808.6,434.8 805.6,429.6 808.6,424.4 814.6,424.4"/>
<polygon points="843.3,429.6 840.3,434.8 834.3,434.8 831.3,429.6 834.3,424.4 840.3,424.4"/>
<path d="M804.6 458.5L823.6 436.2Q824.5 434.5 825.6 435.6L841.9 452.6" stroke="#111" stroke-width="1.3"/>
<path d="M806.6 460.5L824.3 439.8L840.5 455.5" stroke="#333"/>
<path d="M804.6 458.5a4.3 4.3 0 1 0 7.5 3.5" stroke="#222"/>
<circle cx="824.3" cy="438.6" r="1.4"/>
<path d="M824.5 441.6L810.7 454.5L819 466M824.5 441.6L843 460M797.3 451l6 6" stroke="#444"/>
<path d="M797.8 466H861.2M797.8 468.3H861.2" stroke="#222"/>
<path d="M808 467.2H858" stroke="#999" stroke-width="1.2"/>
<path d="M797.8 469.2H817.1M817.1 471V483M819.4 471.9V516.1"/>
<path d="M819.4 475.6L823.5 471.5H838.3"/>
<path d="M794.1 516.1V486.6H797.3V483.4H819.4" stroke="#111" stroke-width="1.3"/>
<path d="M794.1 491.2H819.4M794.1 499.5H819.4M794.1 507.8H819.4" stroke="#777" stroke-width="1.9"/>
<path d="M794.1 488.5H819.4M794.1 494.2H819.4M794.1 502.5H819.4M794.1 510.6H819.4" stroke="#444"/>
<circle cx="833.2" cy="477.5" r="6" fill="#fff"/>
<path d="M842.5 470.5l3.2-4.2l1 5z" fill="#111" stroke="none"/>
<path d="M844.7 435.2H852V449L845.6 453.5" stroke="#222"/>
<path d="M853.9 415.9q5 1 4.6 7.8t-4.6 7.8z" fill="#555" stroke="#111" stroke-width="1"/>
<path d="M851.1 471L859.4 481.1H872M861.7 468.3V481.1"/>
<path d="M776.2 441C762 448 748 460.4 732 460.4H690A42.4 42.4 0 0 0 687.8 544"/>
<path d="M776.2 450C764 456 750 465.5 735 465.8H733M776.2 463.1C766 466 758 471.1 751.4 471.1H693.1"/>
<path d="M731.5 460.4V471.1M733.5 460.4V471.1M748.5 460.4V471.1M751 460.4V471.1"/>
<circle cx="696.6" cy="502" r="30.9"/>
<path d="M665.9 493.2V511.7M665.9 511.7h3" stroke="#111" stroke-width="1.5"/>
<path d="M667.5 488A32.5 32.5 0 0 0 684 532" stroke="#444"/>
<polygon points="708.6,505.2 699.8,514.0 687.8,510.8 684.6,498.8 693.4,490.0 705.4,493.2" stroke-dasharray="3.4 1.5" stroke="#111" stroke-width="1.6"/>
<circle cx="696.6" cy="502" r="8.5" stroke-dasharray="3.2 1.6" stroke="#222" stroke-width="1.15"/>
<rect x="692.6" y="498" width="8.0" height="8.0" stroke-dasharray="3.2 1.6" stroke="#222" stroke-width="1.15"/>
<path d="M668 502H725" stroke="#bbb" stroke-dasharray="2 7"/>
<path d="M722.5 499.5l2 2.5l-2 2.5" stroke="#111" stroke-width="1.5"/>
<path d="M687.8 532.9H751.4C790 533 790 565.1 819.2 565.1H905.4C930 565 950 522.1 993.8 522.1H1006.2"/>
<path d="M679 540.3H751.4C790 541 790 573 821.5 573H910.7C935 572.5 945 536.3 963.8 536.3L993.8 529.2H1006.2V522.1"/>
<path d="M993.8 522.1V529.2"/>
<path d="M731.5 532.9V540.6M733.5 532.9V540.6M748.5 532.9V540.6M751 532.9V540.6"/>
<path d="M679 540.3Q673 538 668 531"/>
<path d="M740 546.4C790 548 795 592.2 823.7 592.2H968.6L1012.4 546.9V460.2"/>
<path d="M790 510.5A58 58 0 0 0 900 537.5"/>
<path d="M791.5 510.5A56.5 56.5 0 0 0 898.5 536.5" stroke="#555"/>
<path d="M803.4 518.1A46.4 46.4 0 0 0 893.9 523.8"/>
<path d="M789.8 510.2C800 517 812 518 819.2 515.9C835 512 845 506.8 853.2 506.8C870 506.8 885 518 900 524.3C920 531 935 515 953.2 502.7C975 490 990 490 1012 486.5C1030 483 1042 475 1052.2 466.4"/>
<path d="M861.2 418.7V374.5H915a13.4 13.4 0 0 1 13.4 13.4V413" fill="#fff"/>
<path d="M866.5 380H912a10.5 10.5 0 0 1 10.5 10.5V413"/>
<path d="M905.8 380V413"/>
<rect x="890.4" y="362.1" width="12.4" height="11.5"/>
<rect x="892.6" y="359.8" width="8.0" height="2.3"/>
<path d="M894.5 362.1V373.6M898.5 362.1V373.6"/>
<path d="M861.2 413H946.1"/>
<circle cx="879.8" cy="400.1" r="16.8" fill="#fff"/>
<polygon points="898.3,400.1 889.0,416.1 870.5,416.1 861.3,400.1 870.5,384.1 889.0,384.1"/>
<rect x="856" y="395.5" width="5.5" height="10.0"/>
<rect x="878.7" y="415.3" width="9.0" height="17.5" fill="#fff"/>
<path d="M878.7 418.7H887.7M878.7 428.3H887.7"/>
<path d="M861.2 418.7H878.7M861.2 420.4H878.7M861.2 427.2H878.7"/>
<rect x="932" y="406" width="10.5" height="6.5"/>
<path d="M935.5 406V412.5M939 406V412.5"/>
<circle cx="951.4" cy="405.4" r="7" fill="#fff"/>
<path d="M945.5 401.5a7 7 0 0 0 5.9 10.9H928.4"/>
<path d="M888.3 414.1V433.9H880.9V447.5L887.2 453.2"/>
<path d="M928.5 413V433.9L935.2 435.6V534.7M936.9 435.6V534.7M945.4 413V455.4"/>
<path d="M931.9 472.4V534.7M930.7 472.4H935.2"/>
<path d="M896.2 414.1L905.3 422.6M923.4 414.7L927.9 419.8M937 414L945.4 423M889 434l9 9M939.2 444.1L946 450.9M893 458l28 28M936.9 466L945.4 475M936.9 487l8.5 10M922.2 492l9 9" stroke="#444"/>
<path d="M900.2 424.3H917.1L914.3 430L927.9 453.2M900.2 424.3L902.5 428.3L904.7 429.5L890 450.9M903 425.6H914.5" fill="#fff"/>
<path d="M907.5 441.2L887.2 456.6M909.8 436.2L926.8 457" stroke="#444"/>
<circle cx="908.1" cy="437.9" r="3.4" fill="#fff"/>
<path d="M905 438.6a3.2 3.2 0 0 0 6.2 0z" fill="#333" stroke="none"/>
<path d="M905.3 439.6L884.6 459" stroke="#111" stroke-width="2"/>
<path d="M905.3 439.6L884.6 459" stroke="#bbb" stroke-width="0.6"/>
<path d="M911.5 440.2L926.8 457.7" stroke="#111" stroke-width="2"/>
<path d="M911.5 440.2L926.8 457.7" stroke="#bbb" stroke-width="0.6"/>
<path d="M926.8 457.7q3.5 4 1.5 7.5t-6 2.5t-3.5-5M928.5 453.5q5.5 6 3 12t-9.5 5.5q-6-1-6.5-7.5l3-3.5" stroke="#222"/>
<path d="M882.5 459.3a2.8 1.4 -40 1 0 4.5-1.8"/>
<rect x="860.6" y="448.1" width="14.1" height="6.2"/>
<path d="M865 448.1V454.3M870.5 448.1V454.3"/>
<rect x="865.1" y="456.6" width="4.0" height="2.2"/>
<path d="M848.4 455.4H887.2M848.4 456.6H886M848.4 458.8H884.6"/>
<path d="M848.8 459.3a3 1.4 0 1 0 6 0a3 1.4 0 1 0 -6 0"/>
<path d="M868 459l8 8" stroke="#444"/>
<path d="M861.2 466.8H886.6"/>
<path d="M861.2 466.8V481.5H876" stroke="#222"/>
<circle cx="878.1" cy="474.7" r="6.8" fill="#fff"/>
<path d="M878.1 484.9V509.8M878.8 497a2.6 5 0 0 1 0 10"/>
<path d="M886.6 467.9V519.9M891.7 519.9V466.4a3 3 0 0 1 3-3h3.5q2.5 0 4 2.5" stroke="#222"/>
<path d="M894.7 463.4H901M908 470.5L918.8 479.2V483.7H922.2V518.8L918.8 522.5M918.8 479.2L921 483.7M918.8 522.5V518.5H921.8" stroke="#222"/>
<path d="M927.3 488.3V517.7M930.7 488.3V517.7M927.3 488.3L922.2 492M927.3 517.7L922.2 514" stroke="#333"/>
<path d="M913.7 525.6Q914 534.7 920 534.7H945Q951.5 534.7 951.7 527.9"/>
<rect x="948.8" y="450.9" width="11.9" height="5.1"/>
<path d="M954.8 450.9V456"/>
<path d="M945.4 455.4Q945.4 458.8 948 458.8H966.4L985.6 439.6H991.3L1011.1 458.8V464" fill="#fff"/>
<path d="M947 456.9H965.6L984.9 437.8Q988.5 436.5 992 437.8L1012.3 457.5Q1013.5 460 1012.5 463.5" stroke="#444"/>
<path d="M962.4 459a2.9 1.4 0 1 0 5.8 0a2.9 1.4 0 1 0 -5.8 0"/>
<path d="M995.2 465.6L999.7 461.1L1004.3 465.6M956.2 460L964.1 467.9M975.4 453.2L991.3 469M999 462q8 1 8 8v9" stroke="#444"/>
<path d="M945.4 506.4V483.7Q946.5 471 961.8 469H993.5" stroke="#222"/>
<path d="M948 506V484.5Q949.5 473.5 963 471.5H992" stroke="#555"/>
<rect x="994.7" y="469.6" width="6.7" height="8.5" stroke="#111" stroke-width="1.5"/>
<rect x="996.5" y="471.5" width="3.2" height="5.0" stroke="#555"/>
<path d="M950.5 503.6A28.6 28.6 0 0 1 1001.3 482.0" stroke="#111" stroke-width="2"/>
<path d="M953.1 503.2A26 26 0 0 1 998.1 482.2"/>
<path d="M956.0 502.8A23 23 0 0 1 994.2 482.5" stroke="#444"/>
<path d="M959.6 496.2A19.5 19.5 0 0 1 990.0 483.6" stroke="#444"/>
<path d="M963.0 496.8A16 16 0 0 1 986.3 485.5" stroke="#555"/>
<path d="M966.5 497.4A12.5 12.5 0 0 1 983.1 487.9" stroke="#555"/>
<path d="M969.9 498.0A9 9 0 0 1 980.4 490.7" stroke="#666"/>
<path d="M973.4 498.6A5.5 5.5 0 0 1 978.8 494.1" stroke="#666"/>
<path d="M979 471.5L968 497M990 474l-6 18" stroke="#666"/>
<path d="M944 509.5L953.2 502.7C975 490 990 490 1011.5 486.6V519H944z" fill="#fff" stroke="none"/>
<path d="M944 509.5L953.2 502.7C975 490 990 490 1012 486.5"/>
<path d="M945.4 506.4V527.9M951.7 508V527.9" stroke="#222"/>
<path d="M946.5 507Q945.5 520 950.5 529M948.5 507Q947.5 519 951.5 527" stroke="#111" stroke-width="1.3"/>
<path d="M1012.4 470H1077.8V488.5H1063.7M1063.7 470V488.5M1063.7 488.5H1046V515.9H1077.8V534.5H1012.4M1063.7 515.9V534.5"/>
<polygon points="1057.6,479.7 1054.0,485.9 1046.8,485.9 1043.2,479.7 1046.8,473.5 1054.0,473.5"/>
<polygon points="1057.6,525.6 1054.0,531.8 1046.8,531.8 1043.2,525.6 1046.8,519.4 1054.0,519.4"/>
<circle cx="1050.4" cy="479.7" r="6.3"/>
<circle cx="1050.4" cy="525.6" r="6.3"/>
<path d="M1049 467.5l3-3.5l1.5 2v4"/>
<path d="M1025.6 535.4V538a6 6 0 0 0 6 6H1047a6 6 0 0 0 6-6V535.4M1029 535.4V537a4 4 0 0 0 4 4H1046a4 4 0 0 0 4-4V535.4"/>
<polygon points="997.7,554.8 988.5,560.1 979.3,554.8 979.3,544.2 988.5,538.9 997.7,544.2"/>
<circle cx="988.5" cy="549.5" r="9.4"/>
<polygon points="944.8,585.7 937.0,590.2 929.2,585.7 929.2,576.7 937.0,572.2 944.8,576.7"/>
<circle cx="937" cy="581.2" r="7.9"/>
<rect x="805.1" y="592.7" width="46.8" height="49.5" fill="#fff"/>
<path d="M805.1 602.5H843"/>
<path d="M843 592.7V600h8.9M843 597h6" stroke="#444"/>
<rect x="846" y="600" width="5.5" height="5.0"/>
<rect x="815.1" y="610.4" width="19.4" height="18.6" rx="4" fill="#fff"/>
<rect x="816.2" y="611.3" width="17.2" height="16.8" rx="3.5" stroke="#777"/>
<path d="M813 628a12 12 0 0 0 23.5 0M816.5 629a8.5 8.5 0 0 0 16.5 0"/>
<rect x="802.5" y="619" width="3.8" height="9.0"/>
<rect x="807.7" y="642.2" width="49.5" height="6.2" fill="#fff"/>
<path d="M811.5 642.2V648.4"/>
<path d="M837.2 649.3h12.4v8l-3 3.4h-6.4l-3-3.4zM840 660.7l3.4 2.4l3.4-2.4" fill="#fff"/>
<path d="M843.4 649.3V657"/>
<path d="M840 660.7l3.4 2.4l3.4-2.4z" fill="#444" stroke="none"/>
<path d="M810 648.4V672"/>
<path d="M870.5 592.7V629Q870.5 643 856 643.5M877.6 592.7V630Q877.6 648.4 862 648.4"/>
<path d="M866 649q6 0 9-6" stroke="#666"/>
<path d="M859 648.4V690a6 6 0 0 0 6 6.1H875.8V630"/>
<path d="M877.6 630V696.1"/>
<path d="M877.6 621q5 0 7 5M887.3 701.4V629a5.5 5.5 0 0 1 5.5-5.5h1.5a5.5 5.5 0 0 1 5.5 5.5V701.4"/>
<path d="M897 626l6 8V668" stroke="#444"/>
<circle cx="886.9" cy="634.3" r="7" fill="#fff"/>
<circle cx="886.9" cy="634.3" r="5.9" stroke="#555"/>
<circle cx="886.9" cy="664.3" r="7" fill="#fff"/>
<circle cx="886.9" cy="664.3" r="5.9" stroke="#555"/>
<circle cx="886.9" cy="676.7" r="5.3" fill="#fff"/>
<circle cx="886.9" cy="676.7" r="4.199999999999999" stroke="#555"/>
<circle cx="886.9" cy="687.3" r="5.3" fill="#fff"/>
<circle cx="886.9" cy="687.3" r="4.199999999999999" stroke="#555"/>
<path d="M885.4 641.3V657.3M888.4 641.3V657.3"/>
<path d="M872 696.1H887.3M877.6 696.1V701.4M880 696.1V701.4"/>
<rect x="905.9" y="641.3" width="7.9" height="15.1"/>
<path d="M905.9 648.8H913.8"/>
<path d="M908 641.3V656.4M911.5 641.3V656.4"/>
<path d="M899.7 666Q906 670 908.5 680Q909 688 903 691.7H909Q916.5 688 916.5 680V673.2Q916 664 906 658L903 650"/>
<!-- botright.svg -->
<clipPath id="brk"><path d="M600 940H1100V1717.4L1065.5 1717.4C1035 1740 1000 1759.8 963.7 1759.8C940 1759.8 915 1748 878.8 1732.2C830 1712 790 1674.9 738.8 1674.9C700 1674.9 665 1700 637 1717.4L600 1717.4z"/></clipPath>
<g clip-path="url(#brk)">
<path d="M676.8 1013V987.4H941.4L958.2 1004.2"/>
<path d="M695.7 987.4V1020.1"/>
<path d="M654.1 1065.2V1013H975V1020.1H654.1M654.1 1065.2L662.1 1070.5"/>
<path d="M819.5 1013V1020.1M821.3 1013V1020.1"/>
<path d="M654.1 1023.6H832.7"/>
<path d="M832.7 1023.6V1060.4"/>
<rect x="848.6" y="1003.3" width="22.3" height="8.9"/>
<path d="M855.6 1003.3V1012.2M864.1 1003.3V1012.2"/>
<rect x="847.7" y="1012.2" width="24.2" height="1.4"/>
<rect x="847.7" y="1020.1" width="23.8" height="15.0"/>
<rect x="931.7" y="1003.3" width="22.3" height="8.9"/>
<path d="M938.7 1003.3V1012.2M947.2 1003.3V1012.2"/>
<rect x="930.8000000000001" y="1012.2" width="24.2" height="1.4"/>
<rect x="930.8000000000001" y="1020.1" width="23.8" height="15.0"/>
<rect x="899.8" y="1023.6" width="19.5" height="8.9"/>
<path d="M913.5 1023.6V1032.5"/>
<rect x="892.8" y="1032.5" width="29.2" height="2.6"/>
<path d="M916.5 1012.5l5 3l-5 3z" fill="#111" stroke="none"/>
<rect x="836.7" y="1035.1" width="138.3" height="13.3" fill="#fff"/>
<path d="M856.5 1035.1V1048.4M858 1035.1V1048.4"/>
<path d="M836.7 1048.4V1060"/>
<path d="M881.3 1048.4V1086M883 1048.4V1086M885.7 1048.4V1086M915.7 1048.4V1086M918.3 1048.4V1086M921 1048.4V1086M937.9 1048.4V1086M939.7 1048.4V1086M945.8 1048.4V1086M961.7 1048.4V1086"/>
<path d="M846 1048.4V1065M856 1048.4V1065M866 1048.4V1065M875 1048.4V1065"/>
<polygon points="901.6,1052.3 918.1,1060.4 918.1,1075.2 901.6,1083.3 885.2,1075.2 885.2,1060.4" fill="#fff"/>
<path d="M889.5 1058.5V1077.2M913.7 1058.5V1077.2" stroke="#777"/>
<circle cx="901.6" cy="1067.9" r="6.7"/>
<polygon points="906.6,1067.9 904.1,1072.2 899.1,1072.2 896.6,1067.9 899.1,1063.6 904.1,1063.6"/>
<rect x="840.6" y="1065.2" width="12.4" height="5.3" rx="1.5"/>
<path d="M844.32 1065.2V1070.5M849.28 1065.2V1070.5"/>
<rect x="865.4" y="1065.2" width="12.3" height="5.3" rx="1.5"/>
<path d="M869.09 1065.2V1070.5M874.01 1065.2V1070.5"/>
<rect x="839.7" y="1070.5" width="38.9" height="5.3"/>
<path d="M864 1069.5l4.5-5l1.5 5z" fill="#111" stroke="none"/>
<rect x="880" y="1076" width="8.0" height="8.0"/>
<path d="M878.6 1080H883"/>
<path d="M662.6 1214V1036a1.7 1.7 0 0 1 1.7-1.7H668.7a1.7 1.7 0 0 1 1.7 1.7V1214z" fill="#fff"/>
<path d="M665 1036V1212M668 1036V1212" stroke="#777"/>
<path d="M670.4 1046.6Q677.3 1063.6 684.2 1046.6Q695.7 1063.6 707.2 1046.6Q718.2 1063.6 729.3 1046.6Q740.3 1063.6 751.4 1046.6Q761.1 1063.6 770.8 1046.6Q780.5 1056.6 790.3 1046.6"/>
<path d="M670.4 1202Q677.3 1185 684.2 1202Q695.7 1185 707.2 1202Q718.2 1185 729.3 1202Q740.3 1185 751.4 1202Q761.1 1185 770.8 1202Q780.5 1192 790.3 1202"/>
<path d="M682.9000000000001 1046.6V1202M685.5 1046.6V1202"/>
<path d="M705.9000000000001 1046.6V1202M708.5 1046.6V1202"/>
<path d="M728.0 1046.6V1202M730.5999999999999 1046.6V1202"/>
<path d="M750.1 1046.6V1202M752.6999999999999 1046.6V1202"/>
<path d="M769.5 1046.6V1202M772.0999999999999 1046.6V1202"/>
<path d="M673.5 1048V1200" stroke="#777"/>
<rect x="789.9" y="1041.3" width="7.5" height="166.2" fill="#fff"/>
<path d="M792.5 1041.3V1207.5M795 1041.3V1207.5" stroke="#777"/>
<path d="M797.4 1046L802.7 1062.5V1186.3L797.4 1204M812.4 1062.5V1186.3M802.7 1062.5q4.8 4 9.7 0M802.7 1186.3q4.8-6 9.7 0"/>
<path d="M816.8 1034.3L812.4 1062.5M816.8 1207L812.4 1186.3"/>
<rect x="816.8" y="1034.3" width="3.5" height="178.0" fill="#fff"/>
<path d="M818.5 1036V1210" stroke="#777"/>
<path d="M804.5 1063V1186M814.5 1063V1186" stroke="#777"/>
<path d="M661.5 1078V1098M661.5 1116V1150M661.5 1155V1170" stroke="#111" stroke-width="1.6" stroke-dasharray="4 1.5"/>
<rect x="659.3" y="1098" width="3.0" height="52.0" rx="1.5"/>
<path d="M797 1204H800V1251.3H815.9V1204"/>
<rect x="801.8" y="1251.3" width="12.3" height="31.8" fill="#fff"/>
<rect x="822.5" y="1060.4" width="17.3" height="700.0" fill="#fff"/>
<path d="M827.4 1060.4V1440"/>
<rect x="822.5" y="1084.6" width="5.8" height="16.0"/>
<path d="M824.24 1084.6V1100.6M826.56 1084.6V1100.6"/>
<rect x="822.5" y="1148.3" width="5.8" height="15.9"/>
<path d="M824.24 1148.3V1164.2M826.56 1148.3V1164.2"/>
<rect x="823" y="1212.4" width="5.3" height="15.9"/>
<path d="M824.59 1212.4V1228.3000000000002M826.71 1212.4V1228.3000000000002"/>
<path d="M822.5 1188.1H839.8"/>
<rect x="815" y="1242.4" width="7.5" height="10.6"/>
<rect x="839.8" y="1075.8" width="39.0" height="160.4" fill="#fff"/>
<path d="M843.2 1085.5H913L917 1091.7V1116.5H886a3.5 3.5 0 0 0 -3.5 3.5V1139.5a3.5 3.5 0 0 1 -3.5 3.5H843.2a3.5 3.5 0 0 1 -3.5-3.5V1089a3.5 3.5 0 0 1 3.5-3.5z" fill="#fff"/>
<path d="M895.4 1085.5V1116.5M901.6 1085.5V1116.5"/>
<polygon points="864.7,1105.0 862.0,1109.8 856.5,1109.8 853.7,1105.0 856.5,1100.2 862.0,1100.2"/>
<polygon points="864.7,1124.4 862.0,1129.2 856.5,1129.2 853.7,1124.4 856.5,1119.6 862.0,1119.6"/>
<path d="M850 1105H868" stroke="#bbb" stroke-dasharray="2 4"/>
<path d="M850 1124.4H868" stroke="#bbb" stroke-dasharray="2 4"/>
<path d="M879.5 1143V1236.2M886.6 1143V1236.2"/>
<rect x="897.2" y="1116.5" width="18.2" height="54.8" fill="#fff"/>
<rect x="903.4" y="1116.5" width="18.5" height="6.2" fill="#fff"/>
<rect x="913.1" y="1122.7" width="8.8" height="5.3"/>
<path d="M915.4 1128V1440" stroke="#000" stroke-width="1.7"/>
<path d="M921.9 1128V1440" stroke="#777"/>
<path d="M887 1117q5 0 8 3l-5 4M887 1124V1147M890 1133h5v14h-4M887 1140h5" stroke="#111" stroke-width="1.5"/>
<rect x="881.3" y="1148.3" width="10.6" height="16.8"/>
<path d="M881.3 1153H891.9M881.3 1160H891.9"/>
<path d="M891.9 1151h3.5v8h-3.5"/>
<rect x="913.1" y="1173.9" width="8.8" height="17.7" fill="#fff"/>
<path d="M913.1 1179.9H921.9M913.1 1185.9H921.9"/>
<rect x="913.1" y="1238" width="8.8" height="17.7" fill="#fff"/>
<path d="M913.1 1244H921.9M913.1 1250H921.9"/>
<rect x="913.1" y="1271.6" width="8.8" height="17.7" fill="#fff"/>
<path d="M913.1 1277.6H921.9M913.1 1283.6H921.9"/>
<rect x="913.1" y="1335.3" width="8.8" height="17.7" fill="#fff"/>
<path d="M913.1 1341.3H921.9M913.1 1347.3H921.9"/>
<rect x="913.1" y="1398.9" width="8.8" height="17.7" fill="#fff"/>
<path d="M913.1 1404.9H921.9M913.1 1410.9H921.9"/>
<rect x="880.4" y="1211.5" width="9.0" height="17.7" fill="#fff"/>
<path d="M880.4 1217H889.4M880.4 1223.5H889.4"/>
<path d="M889.4 1213a8 8 0 0 1 0 14.5"/>
<rect x="839.7" y="1236.2" width="39.0" height="6.2"/>
<rect x="840.6" y="1242.4" width="12.4" height="5.3" rx="1.5"/>
<path d="M844.32 1242.4V1247.7M849.28 1242.4V1247.7"/>
<rect x="865.4" y="1242.4" width="12.3" height="5.3" rx="1.5"/>
<path d="M869.09 1242.4V1247.7M874.01 1242.4V1247.7"/>
<path d="M855.7 1247.7V1307M863.7 1247.7V1307"/>
<path d="M880.4 1236.2V1312M883 1236.2V1312"/>
<path d="M886.6 1236.2V1312" stroke="#000" stroke-width="2.2"/>
<path d="M839.8 1249L833 1257H822.5"/>
<rect x="840.7" y="1269" width="8.0" height="17.6"/>
<path d="M848.7 1270.5h3l2.5 3v9.6l-2.5 3h-3"/>
<path d="M840.7 1274H848.7M840.7 1281H848.7"/>
<path d="M839.8 1312.3H879.5" stroke-dasharray="3.2 1.6" stroke="#111" stroke-width="1.4"/>
<path d="M841 1303h12v5h-12zM866 1303h12v5h-12z" stroke-dasharray="3.2 1.6"/>
<path d="M879.6 1312.3V1760" stroke-dasharray="3.2 1.6" stroke="#111" stroke-width="1.4"/>
<path d="M887 1312.3V1760" stroke-dasharray="3.2 1.6"/>
<rect x="880.4" y="1321.1" width="7.1" height="15.9" stroke-dasharray="3.2 1.6"/>
<rect x="880.4" y="1384" width="7.1" height="18.5" stroke-dasharray="3.2 1.6"/>
<rect x="880.4" y="1445" width="7.1" height="14.0" fill="#fff"/>
<path d="M881 1637V1665M886 1637V1665" stroke-dasharray="3.2 1.6"/>
<path d="M881 1700V1725M886 1700V1725" stroke-dasharray="3.2 1.6"/>
<path d="M887.4 1322a14 14 0 0 0 28 0"/>
<polygon points="915.4,1360.9 901.6,1368.8 887.8,1360.9 887.8,1345.0 901.6,1337.0 915.4,1345.0" fill="#fff"/>
<path d="M891 1340V1366M912 1340V1366" stroke="#777"/>
<polygon points="908.1,1352.9 904.9,1358.5 898.4,1358.5 895.1,1352.9 898.4,1347.3 904.9,1347.3"/>
<path d="M887 1343L891 1341M887 1363L891 1365"/>
<path d="M888.3 1440V1398.9H915.4"/>
<rect x="887.2" y="1398.9" width="26.5" height="100.1" fill="#fff"/>
<polygon points="915.8,1553.2 902.0,1561.1 888.2,1553.2 888.2,1537.2 902.0,1529.3 915.8,1537.2" fill="#fff"/>
<polygon points="907.8,1545.2 904.9,1550.2 899.1,1550.2 896.2,1545.2 899.1,1540.2 904.9,1540.2"/>
<path d="M891.5 1532V1558.5M912.5 1532V1558.5" stroke="#777"/>
<polygon points="915.8,1744.5 902.0,1752.5 888.2,1744.5 888.2,1728.6 902.0,1720.7 915.8,1728.6" fill="#fff"/>
<polygon points="907.8,1736.6 904.9,1741.6 899.1,1741.6 896.2,1736.6 899.1,1731.6 904.9,1731.6"/>
<path d="M891.5 1723V1750M912.5 1723V1750" stroke="#777"/>
<path d="M915.8 1440V1760" stroke="#111" stroke-width="1.5"/>
<path d="M921.1 1440V1760" stroke="#777"/>
<path d="M915.6 1535.2L920.5 1538.2V1552.2L915.6 1555.2" fill="#fff"/>
<path d="M915.6 1726.6L920.5 1729.6V1743.6L915.6 1746.6" fill="#fff"/>
<rect x="921.1" y="1097.9" width="41.5" height="5.3" fill="#fff"/>
<rect x="924.6" y="1092.6" width="11.5" height="4.9" rx="1.5"/>
<path d="M928.0500000000001 1092.6V1097.5M932.65 1092.6V1097.5"/>
<rect x="950.2" y="1092.6" width="11.5" height="4.9" rx="1.5"/>
<path d="M953.6500000000001 1092.6V1097.5M958.25 1092.6V1097.5"/>
<path d="M921.5 1096l4-5l1.5 5zM948 1096l4-6l1.5 6z" fill="#111" stroke="none"/>
<rect x="922.8" y="1103.2" width="38.9" height="320.5" fill="#fff"/>
<path d="M915.4 1423.7H961.7"/>
<rect x="923" y="1423.7" width="25.0" height="5.5"/>
<rect x="923.7" y="1430.7" width="12.4" height="4.5" rx="1.5"/>
<path d="M927.4200000000001 1430.7V1435.2M932.38 1430.7V1435.2"/>
<rect x="949.5" y="1430.7" width="12.4" height="4.5" rx="1.5"/>
<path d="M953.22 1430.7V1435.2M958.18 1430.7V1435.2"/>
<path d="M922.8 1429V1760M924.6 1429V1760"/>
<path d="M944 1435V1760M946.5 1435V1760" stroke="#777"/>
<rect x="963.5" y="1064.3" width="20.3" height="700.0" fill="#fff"/>
<rect x="983.8" y="1074.9" width="61.9" height="700.0" fill="#fff"/>
<rect x="983.8" y="1065.2" width="61.9" height="9.7" fill="#fff"/>
<path d="M1001.5 1065.2V1074.9M1004.5 1065.2V1074.9M1019 1065.2V1074.9M1026 1065.2V1074.9"/>
<rect x="1013.9" y="1054.6" width="18.5" height="8.8"/>
<path d="M1023.5 1054.6V1063.4"/>
<rect x="1012.5" y="1063.4" width="21.5" height="1.8"/>
<rect x="965.3" y="1050.2" width="12.3" height="6.0"/>
<rect x="964.5" y="1056.2" width="14.5" height="8.0"/>
<path d="M971.5 1050.2V1064.3"/>
<rect x="979.4" y="1054.6" width="7.0" height="10.0"/>
<path d="M977.6 1060H986.4"/>
<path d="M965.3 1064.3V1760" stroke="#777"/>
<path d="M976.8 1064.3V1760" stroke="#777"/>
<path d="M979.4 1064.3V1760" stroke="#777"/>
<path d="M982.9 1064.3V1760" stroke="#777"/>
<path d="M996.2 1074.9V1760" stroke="#111" stroke-width="1.5"/>
<path d="M999.7 1074.9V1760M1001.1 1074.9V1760" stroke="#777"/>
<path d="M1018.8 1074.9V1760" stroke="#777"/>
<path d="M1025.9 1074.9V1760" stroke="#777"/>
<path d="M1043 1074.9V1760" stroke="#999" stroke-width="1.8"/>
<circle cx="990" cy="1099.7" r="10.6" fill="#fff"/>
<path d="M983.8 1091.1000000000001V1108.3" stroke="#fff" stroke-width="2.5"/>
<path d="M982.9 1090.7V1108.7M983.8 1091.2V1108.2" stroke="#777"/>
<polygon points="996.8,1099.7 993.4,1105.6 986.6,1105.6 983.2,1099.7 986.6,1093.8 993.4,1093.8"/>
<circle cx="990" cy="1290.2" r="10.6" fill="#fff"/>
<path d="M983.8 1281.6000000000001V1298.8" stroke="#fff" stroke-width="2.5"/>
<path d="M982.9 1281.2V1299.2M983.8 1281.7V1298.7" stroke="#777"/>
<polygon points="996.8,1290.2 993.4,1296.1 986.6,1296.1 983.2,1290.2 986.6,1284.3 993.4,1284.3"/>
<circle cx="990" cy="1480.4" r="10.6" fill="#fff"/>
<path d="M983.8 1471.8000000000002V1489.0" stroke="#fff" stroke-width="2.5"/>
<path d="M982.9 1471.4V1489.4M983.8 1471.9V1488.9" stroke="#777"/>
<polygon points="996.8,1480.4 993.4,1486.3 986.6,1486.3 983.2,1480.4 986.6,1474.5 993.4,1474.5"/>
<circle cx="990" cy="1669.5" r="10.6" fill="#fff"/>
<path d="M983.8 1660.9V1678.1" stroke="#fff" stroke-width="2.5"/>
<path d="M982.9 1660.5V1678.5M983.8 1661.0V1678.0" stroke="#777"/>
<polygon points="996.8,1669.5 993.4,1675.4 986.6,1675.4 983.2,1669.5 986.6,1663.6 993.4,1663.6"/>
<circle cx="988.5" cy="1749" r="5.8" fill="#fff"/>
<rect x="793" y="1261" width="8.0" height="13.0"/>
<path d="M789 1269h12v8h-12z" fill="#fff"/>
<rect x="788.5" y="1277" width="17.5" height="11.0" fill="#fff"/>
<path d="M794 1277V1288M800 1277V1288"/>
<path d="M784 1294l4-4h18l4 4v5l-4 3.5h-18l-4-3.5z" fill="#fff"/>
<path d="M784 1296.5H810" stroke="#111" stroke-width="1.5"/>
<rect x="792" y="1290" width="14.0" height="12.0" fill="#fff"/>
<path d="M789 1302.5h17v13q-2 8-8.5 8t-8.5-8z" fill="#fff"/>
<path d="M789 1306H806M789 1310H806M789 1316H806"/>
<path d="M791 1320q6.5 4 13 0" stroke="#111" stroke-width="1.5"/>
<rect x="808" y="1270" width="7.5" height="16.5" fill="#fff"/>
<path d="M808 1275H815.5M808 1281H815.5"/>
<rect x="811" y="1321.1" width="10.0" height="14.5" fill="#fff"/>
<path d="M814.0 1321.1V1335.6M818.0 1321.1V1335.6"/>
<path d="M675.4 1279.6V1576M681.5 1279.6V1415M685.6 1279.6V1415" stroke-dasharray="3.2 1.6"/>
<path d="M675.4 1279.6H790" stroke-dasharray="3.2 1.6" stroke="#111" stroke-width="1.4"/>
<path d="M679 1279.6V1268Q680 1261 684 1261H688Q692 1261 693 1268V1279.6M681 1267H691M680 1273H692" stroke-dasharray="3.2 1.6"/>
<path d="M694 1279.6V1262.5Q695 1255.5 699 1255.5H710.5Q714.5 1255.5 715.5 1262.5V1279.6M696 1261.5H713.5M695 1267.5H714.5" stroke-dasharray="3.2 1.6"/>
<path d="M721.5 1279.6V1268Q722.5 1261 726.5 1261H730.5Q734.5 1261 735.5 1268V1279.6M723.5 1267H733.5M722.5 1273H734.5" stroke-dasharray="3.2 1.6"/>
<path d="M743.5 1279.6V1262.5Q744.5 1255.5 748.5 1255.5H760.5Q764.5 1255.5 765.5 1262.5V1279.6M745.5 1261.5H763.5M744.5 1267.5H764.5" stroke-dasharray="3.2 1.6"/>
<path d="M768 1279.6V1271.5Q769 1264.5 773 1264.5H780Q784 1264.5 785 1271.5V1279.6M770 1270.5H783M769 1276.5H784" stroke-dasharray="3.2 1.6"/>
<path d="M690 1274H790" stroke-dasharray="3.2 1.6"/>
<path d="M774.4 1286.6V1320.2M774.4 1286.6H786" stroke-dasharray="3.2 1.6" stroke="#111" stroke-width="1.4"/>
<circle cx="702.8" cy="1307.9" r="12.4" stroke-dasharray="3.2 1.6"/>
<polygon points="708.8,1307.9 705.8,1313.1 699.8,1313.1 696.8,1307.9 699.8,1302.7 705.8,1302.7" stroke-dasharray="3.2 1.6"/>
<circle cx="728.4" cy="1296.9" r="7" stroke-dasharray="3.2 1.6"/>
<circle cx="728.4" cy="1296.9" r="3" stroke-dasharray="3.2 1.6"/>
<circle cx="755.8" cy="1301.7" r="12.4" stroke-dasharray="3.2 1.6"/>
<polygon points="761.8,1301.7 758.8,1306.9 752.8,1306.9 749.8,1301.7 752.8,1296.5 758.8,1296.5" stroke-dasharray="3.2 1.6"/>
<circle cx="738.1" cy="1368" r="37.1" stroke-dasharray="3.2 1.6"/>
<path d="M688 1332C720 1318 750 1316 772 1321C790 1326 792 1390 790 1396C786 1408 770 1412 758 1412C745 1418 725 1418 712 1411C700 1412 692 1408 690 1398C683 1380 680 1350 688 1332z" stroke-dasharray="3.2 1.6" stroke="#111" stroke-width="1.4"/>
<path d="M691 1335C720 1322 750 1320 770 1325C786 1330 788 1388 786 1394" stroke-dasharray="3.2 1.6"/>
<circle cx="694.8" cy="1341.4" r="8" stroke-dasharray="3.2 1.6"/>
<circle cx="772.6" cy="1332.6" r="8.5" stroke-dasharray="3.2 1.6"/>
<circle cx="701.9" cy="1403.3" r="8.5" stroke-dasharray="3.2 1.6"/>
<circle cx="781.4" cy="1395.4" r="9" stroke-dasharray="3.2 1.6"/>
<path d="M731.9 1378.6L721.3 1410.4M731.9 1378.6H746.1L763.8 1408.6M733 1381l26 32M749 1381l16 26" stroke-dasharray="3.2 1.6" stroke="#111" stroke-width="1.4"/>
<path d="M721.3 1410.4q21 8 42.5-2" stroke-dasharray="3.2 1.6"/>
<path d="M675.4 1415.7H781.4" stroke-dasharray="3.2 1.6"/>
<path d="M781.4 1412.2V1520" stroke-dasharray="3.2 1.6"/>
<path d="M792 1325.5V1394.5M796.5 1325.5V1394.5" stroke-dasharray="3.2 1.6"/>
<path d="M808 1320.2V1421M810.6 1320.2V1421" stroke-dasharray="3.2 1.6" stroke="#111" stroke-width="1.4"/>
<path d="M815 1263V1425" stroke-dasharray="3.2 1.6"/>
<path d="M808 1421q1 6 6 8V1440" stroke-dasharray="3.2 1.6"/>
<circle cx="686.3" cy="1428.1" r="8" stroke-dasharray="3.2 1.6"/>
<circle cx="686.3" cy="1428.1" r="5.5"/>
<circle cx="730.2" cy="1438.7" r="10" stroke-dasharray="3.2 1.6"/>
<circle cx="730.2" cy="1438.7" r="4" stroke-dasharray="3.2 1.6"/>
<circle cx="752.5" cy="1452.3" r="10" stroke-dasharray="3.2 1.6"/>
<circle cx="752.5" cy="1452.3" r="4" stroke-dasharray="3.2 1.6"/>
<rect x="675.4" y="1416" width="21.0" height="24.0" stroke-dasharray="3.2 1.6"/>
<path d="M697 1420h60M700 1424l-10 36M705 1424l-8 34M710 1426l-6 30M758 1420l22 26M762 1416l20 24M781.4 1440V1500" stroke-dasharray="3.2 1.6"/>
<path d="M709 1458H738q6 8 14 10H770" stroke-dasharray="3.2 1.6" stroke="#111" stroke-width="1.4"/>
<path d="M678 1500V1474q0-5 5-7V1462h16v5q5 2 5 7V1500M683 1467h16M678 1475h26" stroke-dasharray="3.2 1.6"/>
<path d="M672.9 1459.7V1576.4" stroke-dasharray="3.2 1.6"/>
<path d="M672.9 1500H710" stroke-dasharray="3.2 1.6"/>
<path d="M672.9 1532.9H814" stroke-dasharray="3.2 1.6"/>
<path d="M672.9 1574.3H814M672.9 1576.4H814" stroke-dasharray="3.2 1.6"/>
<path d="M684.6 1500V1574M691.6 1500V1574M703.7 1500V1574" stroke-dasharray="3.2 1.6"/>
<path d="M709.5 1458V1532.9M716.4 1458V1532.9M730.2 1458V1532.9" stroke-dasharray="3.2 1.6"/>
<path d="M764.5 1440V1498M770 1440V1498M777 1440V1498M782.5 1440V1498" stroke-dasharray="3.2 1.6"/>
<path d="M764.5 1498H814M783 1475h29M788 1462h18v13" stroke-dasharray="3.2 1.6"/>
<path d="M801.5 1500V1532.9M812 1500V1532.9" stroke-dasharray="3.2 1.6"/>
<path d="M703.7 1539.3H784a14 14 0 0 1 14 14V1576M709 1546.7H780a11 11 0 0 1 11 11" stroke-dasharray="3.2 1.6"/>
<path d="M703.7 1539.3L691.6 1557.3H798.1M709 1546.7l-5-7" stroke-dasharray="3.2 1.6"/>
<path d="M709 1546.7V1576M716.4 1546.7V1576M723 1546.7V1576M764.5 1546.7V1576M782.5 1546.7V1576M790.5 1546.7V1576" stroke-dasharray="3.2 1.6"/>
<path d="M672.9 1576.4L677.1 1582.8H762" stroke-dasharray="3.2 1.6" stroke="#111" stroke-width="1.4"/>
<path d="M677.1 1582.8V1688.9M678.5 1582.8V1688.9" stroke-dasharray="3.2 1.6"/>
<path d="M701.5 1582.8V1650M709 1582.8V1650M716.4 1582.8V1650M719.6 1582.8V1650" stroke-dasharray="3.2 1.6"/>
<path d="M762 1576V1650M765.2 1576V1650M775.8 1576V1650M781.1 1576V1650" stroke-dasharray="3.2 1.6"/>
<path d="M793.8 1582V1690M798.1 1576V1692" stroke-dasharray="3.2 1.6"/>
<path d="M798.1 1582H814M798.1 1611H814M798.1 1621H814M798.1 1625H814M798.1 1634.5H814" stroke-dasharray="3.2 1.6"/>
<path d="M786 1593h8v7h-8zM786 1609h8v7h-8z" stroke-dasharray="3.2 1.6" stroke="#111" stroke-width="1.4"/>
<path d="M701.5 1644.3H785a8 8 0 0 0 8-8M706 1650.7H783M701.5 1658.1H783a12 12 0 0 0 10-10M701.5 1658.1l8-13.8" stroke-dasharray="3.2 1.6"/>
<path d="M711.5 1658.1V1690M768.5 1658.1V1690M775.8 1658.1V1690M781.1 1658.1V1690" stroke-dasharray="3.2 1.6"/>
<path d="M814 1531.8V1760" stroke="#111" stroke-width="1.5"/>
<path d="M817.2 1531.8V1637.9"/>
<path d="M814 1531.8q3.5-1 3.2-5V1489.4"/>
<path d="M824.6 1440V1760M826.7 1440V1760" stroke="#777"/>
<path d="M839.4 1440V1527.6H832V1578.5H839.4V1760" fill="#fff"/>
<rect x="814" y="1440.6" width="10.6" height="48.8" fill="#fff"/>
<path d="M814 1447H824.6M814 1474H824.6"/>
<rect x="811.5" y="1449" width="6.0" height="12.0" stroke-dasharray="3.2 1.6"/>
<rect x="814" y="1637.9" width="10.6" height="125.0" fill="#fff"/>
<path d="M814 1639.2H824.6" stroke="#000" stroke-width="2.2"/>
<path d="M814 1643H824.6"/>
<circle cx="832.7" cy="1424.5" r="5.5" fill="#fff"/>
<circle cx="832.7" cy="1424.5" r="3.4"/>
<circle cx="832.7" cy="1681.4" r="5.5" fill="#fff"/>
<circle cx="832.7" cy="1681.4" r="3.4" stroke-dasharray="3.2 1.6"/>
<rect x="816.8" y="1413.9" width="8.0" height="30.0" fill="#fff"/>
<path d="M816.8 1423.5H824.8"/>
</g>
<path d="M637 1717.4C665 1700 700 1674.9 738.8 1674.9C790 1674.9 830 1712 878.8 1732.2C915 1748 940 1759.8 963.7 1759.8C1000 1759.8 1035 1740 1065.5 1717.4" stroke="#444" stroke-width="0.95" stroke-dasharray="5.5 2.5"/>
<text x="585.3" y="1759" font-size="23.7" fill="#000" stroke="#fff" stroke-width="0.3" paint-order="fill stroke" letter-spacing="0.75">SECTION A-A</text>
</g>
<!-- leaders -->
<g class="l">
<line x1="177.2" y1="253.1" x2="246.7" y2="264.8"/>
<line x1="167.7" y1="562.9" x2="262.8" y2="681.1"/>
<line x1="449.9" y1="580.7" x2="298.4" y2="684.6"/>
<line x1="373.2" y1="694.1" x2="332.3" y2="703.3"/>
<line x1="176.6" y1="715.2" x2="247" y2="720.3"/>
<line x1="176.6" y1="765.7" x2="248.5" y2="750.6"/>
<line x1="446" y1="741.7" x2="349.5" y2="753.5"/>
<line x1="446" y1="792.1" x2="359.9" y2="781.2"/>
<line x1="446.9" y1="845" x2="347.1" y2="806.4"/>
<line x1="176.6" y1="965.4" x2="247" y2="961.3"/>
<line x1="450.5" y1="1016.8" x2="387.5" y2="1059.9"/>
<line x1="446" y1="1062.3" x2="321.3" y2="1074.7"/>
<line x1="172.8" y1="1129.7" x2="222.7" y2="1152"/>
<line x1="175.7" y1="1169.2" x2="217.3" y2="1159.4"/>
<line x1="446.6" y1="1209.9" x2="287.1" y2="1165.3"/>
<line x1="446.9" y1="1509.9" x2="298.4" y2="1569.3"/>
<line x1="446" y1="1561.9" x2="331.7" y2="1573.7"/>
<line x1="446" y1="1613.8" x2="273.7" y2="1593.6"/>
<line x1="172.8" y1="1628.7" x2="247.9" y2="1582.6"/>
<line x1="176.6" y1="1634.6" x2="247" y2="1613.8"/>
<line x1="176.6" y1="1642.6" x2="247" y2="1646.5"/>
<line x1="286.2" y1="1739.5" x2="286.2" y2="1680.7"/>
<line x1="871.8" y1="297.5" x2="836.5" y2="477.3"/>
<line x1="938.4" y1="297.5" x2="954.2" y2="402.6"/>
<line x1="1051.5" y1="361.8" x2="879.5" y2="483.1"/>
<line x1="791.9" y1="947.6" x2="776.2" y2="987.9"/>
<line x1="865.3" y1="946.8" x2="888.6" y2="1028.2"/>
<line x1="916.2" y1="947.6" x2="914.1" y2="1021.9"/>
<line x1="959.5" y1="943.4" x2="861" y2="1070.7"/>
<line x1="970.1" y1="947.6" x2="946.7" y2="1097.4"/>
<line x1="1018.9" y1="943.4" x2="918.3" y2="1096.1"/>
<line x1="1130.5" y1="1191.6" x2="867.4" y2="1193.7"/>
<line x1="1131.3" y1="1246.8" x2="891.6" y2="1219.2"/>
<line x1="1130.5" y1="1406.8" x2="945.9" y2="1397"/>
<line x1="1133.4" y1="1503.9" x2="921.3" y2="1408.5"/>
<line x1="1134.7" y1="1610" x2="909.8" y2="1458.5"/>
</g>
<!-- balloons -->
<g class="b">
<circle cx="152.3" cy="199.3" r="23.6"/><text x="152.3" y="207.7">555</text>
<circle cx="152.3" cy="248.7" r="23.6"/><text x="152.3" y="257.1">266</text>
<circle cx="152.3" cy="493" r="23.6"/><text x="152.3" y="501.4">555</text>
<circle cx="152.3" cy="542.2" r="23.6"/><text x="152.3" y="550.6">262</text>
<circle cx="152.3" cy="614.8" r="23.6"/><text x="152.3" y="623.2">590</text>
<circle cx="152.3" cy="663.8" r="23.6"/><text x="152.3" y="672.2">518</text>
<circle cx="152.3" cy="713.2" r="23.6"/><text x="152.3" y="721.6">285</text>
<circle cx="152.3" cy="771.7" r="23.6"/><text x="152.3" y="780.1">281</text>
<circle cx="152.3" cy="820.6" r="23.6"/><text x="152.3" y="829.0">518</text>
<circle cx="152.3" cy="869.3" r="23.6"/><text x="152.3" y="877.7">590</text>
<circle cx="152.3" cy="966.5" r="23.6"/><text x="152.3" y="974.9">283</text>
<circle cx="152.3" cy="1015.6" r="23.6"/><text x="152.3" y="1024.0">555</text>
<circle cx="152.3" cy="1118.4" r="23.6"/><text x="152.3" y="1126.8">49</text>
<circle cx="152.3" cy="1177.2" r="23.6"/><text x="152.3" y="1185.6">218</text>
<circle cx="152.3" cy="1226" r="23.6"/><text x="152.3" y="1234.4">512</text>
<circle cx="152.3" cy="1274.7" r="23.6"/><text x="152.3" y="1283.1">553</text>
<circle cx="152.3" cy="1641.4" r="23.6"/><text x="152.3" y="1649.8">281</text>
<circle cx="152.3" cy="1690.2" r="23.6"/><text x="152.3" y="1698.6">590</text>
<circle cx="152.3" cy="1739.2" r="23.6"/><text x="152.3" y="1747.6">518</text>
<circle cx="470.1" cy="517.7" r="23.6"/><text x="470.1" y="526.1">553</text>
<circle cx="470.1" cy="566.4" r="23.6"/><text x="470.1" y="574.8">205</text>
<circle cx="470.1" cy="639.5" r="23.6"/><text x="470.1" y="647.9">601</text>
<circle cx="470.1" cy="688.5" r="23.6"/><text x="470.1" y="696.9">555</text>
<circle cx="397" cy="688.5" r="23.6"/><text x="397" y="696.9">26</text>
<circle cx="470.1" cy="737.5" r="23.6"/><text x="470.1" y="745.9">42</text>
<circle cx="470.1" cy="796" r="23.6"/><text x="470.1" y="804.4">41</text>
<circle cx="470.1" cy="854.5" r="23.6"/><text x="470.1" y="862.9">43</text>
<circle cx="470.1" cy="1001.4" r="23.6"/><text x="470.1" y="1009.8">44</text>
<circle cx="470.1" cy="1059.6" r="23.6"/><text x="470.1" y="1068.0">38</text>
<circle cx="470.1" cy="1108.7" r="23.6"/><text x="470.1" y="1117.1">518</text>
<circle cx="470.1" cy="1157.5" r="23.6"/><text x="470.1" y="1165.9">555</text>
<circle cx="470.1" cy="1216" r="23.6"/><text x="470.1" y="1224.4">3</text>
<circle cx="470.1" cy="1450.8" r="23.6"/><text x="470.1" y="1459.2">553</text>
<circle cx="470.1" cy="1499.5" r="23.6"/><text x="470.1" y="1507.9">205</text>
<circle cx="470.1" cy="1558.3" r="23.6"/><text x="470.1" y="1566.7">27</text>
<circle cx="470.1" cy="1616.8" r="23.6"/><text x="470.1" y="1625.2">202</text>
<circle cx="470.1" cy="1665.8" r="23.6"/><text x="470.1" y="1674.2">553</text>
<circle cx="286.2" cy="1763.2" r="23.6"/><text x="286.2" y="1771.6">37</text>
<circle cx="335.5" cy="1763.2" r="23.6"/><text x="335.5" y="1771.6">553</text>
<circle cx="934.7" cy="174.9" r="23.6"/><text x="934.7" y="183.3">551</text>
<circle cx="875.9" cy="224.2" r="23.6"/><text x="875.9" y="232.6">553</text>
<circle cx="934.7" cy="224.2" r="23.6"/><text x="934.7" y="232.6">144</text>
<circle cx="875.9" cy="273.1" r="23.6"/><text x="875.9" y="281.5">205</text>
<circle cx="934.7" cy="273.1" r="23.6"/><text x="934.7" y="281.5">54</text>
<circle cx="1071.9" cy="346.4" r="23.6"/><text x="1071.9" y="354.8">36</text>
<circle cx="973.5" cy="825" r="23.6"/><text x="973.5" y="833.4">552</text>
<circle cx="1032.4" cy="825" r="23.6"/><text x="1032.4" y="833.4">555</text>
<circle cx="917" cy="874.2" r="23.6"/><text x="917" y="882.6">560</text>
<circle cx="973.5" cy="874.2" r="23.6"/><text x="973.5" y="882.6">173</text>
<circle cx="1032.4" cy="874.2" r="23.6"/><text x="1032.4" y="882.6">601</text>
<circle cx="800.3" cy="923" r="23.6"/><text x="800.3" y="931.4">7</text>
<circle cx="858.9" cy="923" r="23.6"/><text x="858.9" y="931.4">23</text>
<circle cx="917" cy="923" r="23.6"/><text x="917" y="931.4">30</text>
<circle cx="973.5" cy="923" r="23.6"/><text x="973.5" y="931.4">39</text>
<circle cx="1032.4" cy="923" r="23.6"/><text x="1032.4" y="931.4">47</text>
<circle cx="1154.6" cy="1142.8" r="23.6"/><text x="1154.6" y="1151.2">29</text>
<circle cx="1154.6" cy="1191.6" r="23.6"/><text x="1154.6" y="1200.0">45</text>
<circle cx="1154.6" cy="1250.3" r="23.6"/><text x="1154.6" y="1258.7">281</text>
<circle cx="1154.6" cy="1299.5" r="23.6"/><text x="1154.6" y="1307.9">518</text>
<circle cx="1154.6" cy="1348.2" r="23.6"/><text x="1154.6" y="1356.6">590</text>
<circle cx="1154.6" cy="1406.8" r="23.6"/><text x="1154.6" y="1415.2">11</text>
<circle cx="1154.6" cy="1456" r="23.6"/><text x="1154.6" y="1464.4">29</text>
<circle cx="1154.6" cy="1515" r="23.6"/><text x="1154.6" y="1523.4">280</text>
<circle cx="1154.6" cy="1563.3" r="23.6"/><text x="1154.6" y="1571.7">555</text>
<circle cx="1154.6" cy="1621.9" r="23.6"/><text x="1154.6" y="1630.3">33</text>
<circle cx="1154.6" cy="1671.1" r="23.6"/><text x="1154.6" y="1679.5">600</text>
</g>
<!-- footer -->
<rect x="101" y="1842.8" width="1146" height="5" fill="#000"/>
<text x="1247" y="1884.3" font-size="19.4" text-anchor="end" fill="#000">Sandvik Mining and Construction Oy, Drills Tampere <tspan font-size="14" dy="-3.5">©</tspan><tspan dy="3.5"> 2012</tspan></text>
<g>
<rect x="102" y="1870.2" width="200" height="73.1" fill="#fff" stroke="#000" stroke-width="2"/>
<rect x="106.5" y="1910.5" width="191.5" height="29.5" fill="#000"/>
<text x="104.5" y="1906.3" font-size="44.2" font-weight="bold" fill="#000" textLength="190" lengthAdjust="spacingAndGlyphs" letter-spacing="-3">SANDVIK</text>
</g>
<text x="19.8" y="1941.8" font-size="75.1" fill="#000">by Sandvik</text>
</svg>
</body></html>
